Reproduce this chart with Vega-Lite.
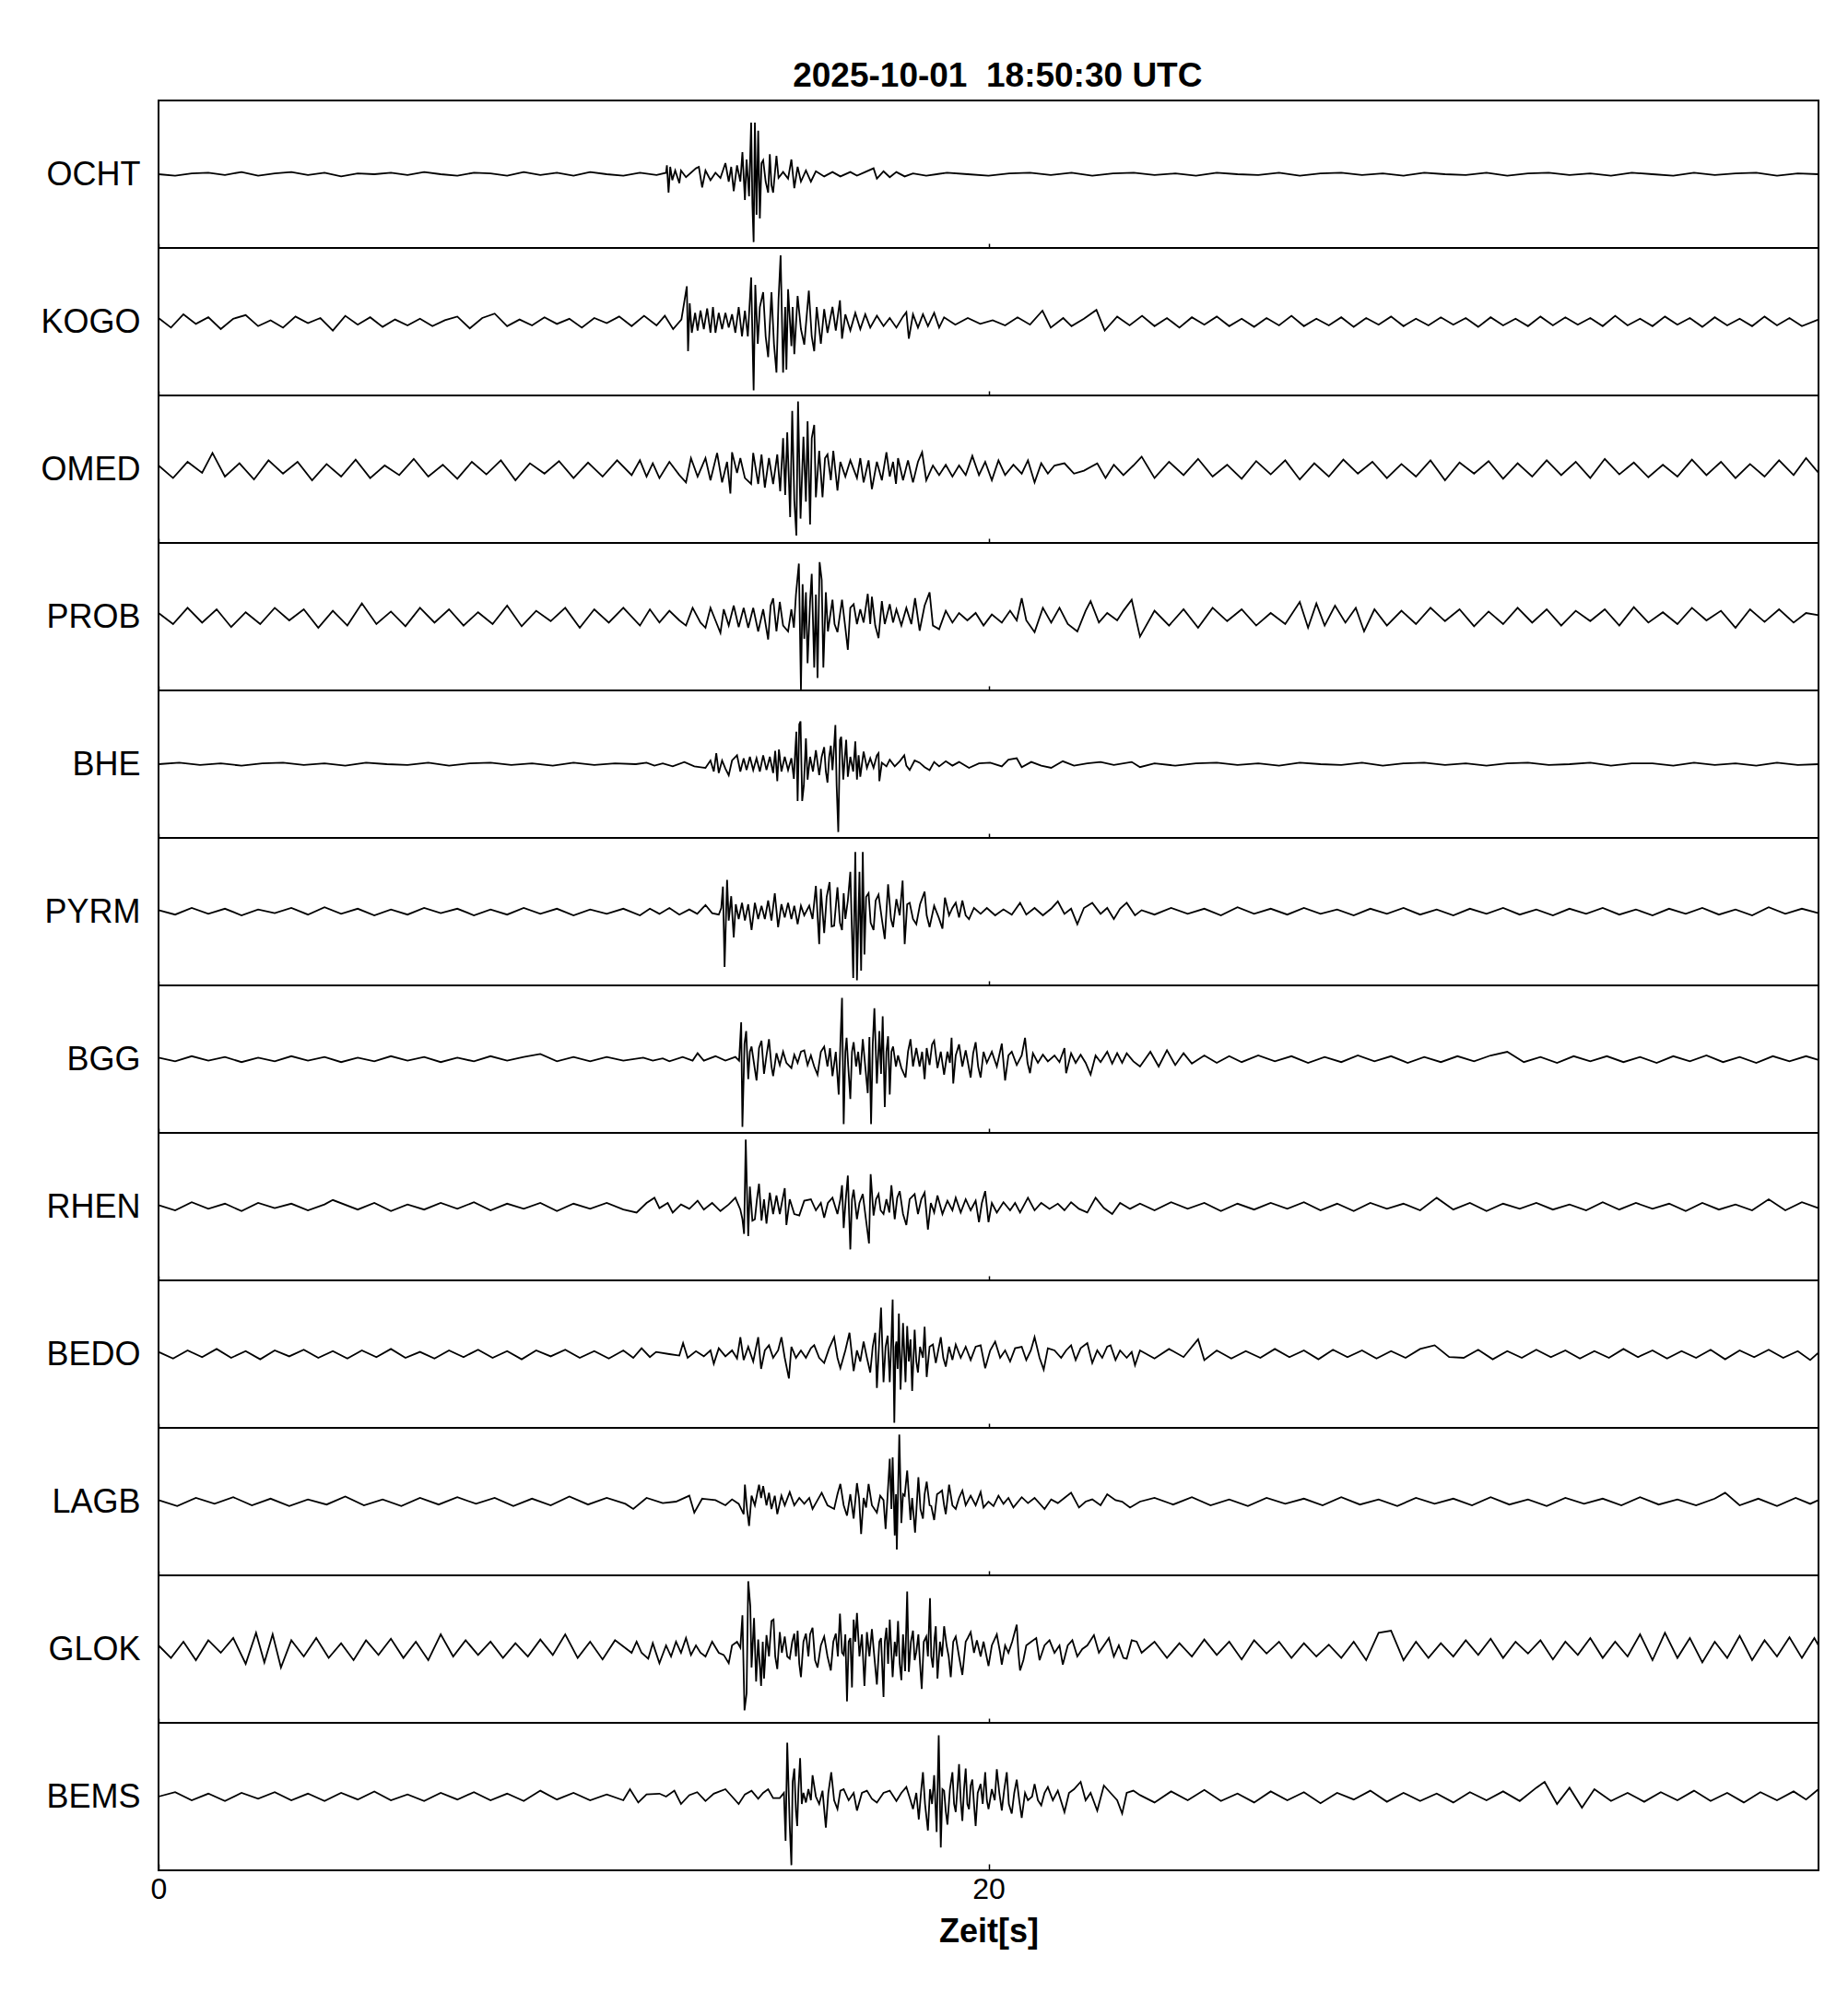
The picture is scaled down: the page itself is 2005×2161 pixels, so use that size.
{
"$schema":"https://vega.github.io/schema/vega-lite/v6.json",
"padding":{"left":42,"top":64,"right":20,"bottom":20},
"background":"white",
"title":{"text":"2025-10-01\u00a0 18:50:30 UTC","fontSize":37,"font":"Liberation Sans","fontWeight":"bold","anchor":"middle","baseline":"alphabetic","offset":-23,"dx":72,"color":"black"},
"spacing":0,
"bounds":"flush",
"config":{"view":{"stroke":"black","strokeWidth":2},"font":"Liberation Sans",
"axisY":{"labels":false,"ticks":false,"domain":false,"grid":false,"titleAngle":0,"titleAlign":"right","titleBaseline":"middle","titleX":-20,"titleY":80,"titleFontSize":36,"titleFontWeight":"normal","titleFont":"Liberation Sans","titleColor":"black"},
"axisX":{"grid":false,"domain":false}},
"datasets":{
"OCHT":[{"t":0,"v":0},{"t":0.4,"v":-0.02},{"t":0.8,"v":0.01},{"t":1.2,"v":0.02},{"t":1.6,"v":-0.01},{"t":2.0,"v":0.03},{"t":2.4,"v":-0.02},{"t":2.8,"v":0.01},{"t":3.2,"v":0.03},{"t":3.6,"v":-0.01},{"t":4.0,"v":0.02},{"t":4.4,"v":-0.03},{"t":4.8,"v":0.01},{"t":5.2,"v":0},{"t":5.6,"v":0.02},{"t":6.0,"v":-0.01},{"t":6.4,"v":0.03},{"t":6.8,"v":0},{"t":7.2,"v":-0.02},{"t":7.6,"v":0.02},{"t":8.0,"v":0.01},{"t":8.4,"v":-0.02},{"t":8.8,"v":0.03},{"t":9.2,"v":-0.01},{"t":9.6,"v":0.02},{"t":10.0,"v":-0.02},{"t":10.4,"v":0.03},{"t":10.8,"v":0},{"t":11.2,"v":-0.02},{"t":11.6,"v":0.02},{"t":12.0,"v":-0.01},{"t":12.23,"v":0.02},{"t":12.25,"v":0.12},{"t":12.29,"v":-0.25},{"t":12.33,"v":0.1},{"t":12.38,"v":-0.08},{"t":12.45,"v":0.05},{"t":12.55,"v":-0.12},{"t":12.59,"v":0.05},{"t":12.71,"v":-0.04},{"t":12.95,"v":0.08},{"t":13.02,"v":0.1},{"t":13.1,"v":-0.18},{"t":13.18,"v":0.05},{"t":13.3,"v":-0.08},{"t":13.42,"v":0.02},{"t":13.54,"v":-0.05},{"t":13.66,"v":0.15},{"t":13.74,"v":-0.1},{"t":13.8,"v":0.1},{"t":13.86,"v":-0.23},{"t":13.94,"v":0.12},{"t":14.02,"v":-0.1},{"t":14.07,"v":0.3},{"t":14.13,"v":-0.35},{"t":14.17,"v":0.2},{"t":14.23,"v":-0.3},{"t":14.28,"v":0.7},{"t":14.31,"v":-0.4},{"t":14.34,"v":-0.92},{"t":14.37,"v":0.7},{"t":14.41,"v":-0.55},{"t":14.45,"v":0.59},{"t":14.49,"v":-0.6},{"t":14.53,"v":0.15},{"t":14.57,"v":0.19},{"t":14.63,"v":-0.1},{"t":14.69,"v":-0.25},{"t":14.73,"v":0.27},{"t":14.77,"v":-0.15},{"t":14.81,"v":-0.25},{"t":14.89,"v":0.25},{"t":14.94,"v":-0.05},{"t":15.05,"v":0.03},{"t":15.17,"v":-0.06},{"t":15.25,"v":0.2},{"t":15.32,"v":-0.19},{"t":15.4,"v":0.1},{"t":15.48,"v":-0.1},{"t":15.6,"v":0.05},{"t":15.72,"v":-0.1},{"t":15.84,"v":0.04},{"t":16.04,"v":-0.03},{"t":16.24,"v":0.03},{"t":16.43,"v":-0.03},{"t":16.67,"v":0.03},{"t":16.83,"v":-0.02},{"t":16.99,"v":0.02},{"t":17.23,"v":0.08},{"t":17.31,"v":-0.06},{"t":17.47,"v":0.04},{"t":17.62,"v":-0.04},{"t":17.78,"v":0.03},{"t":17.98,"v":-0.03},{"t":18.18,"v":0.01},{"t":18.5,"v":-0.02},{"t":19.0,"v":0.02},{"t":19.5,"v":0},{"t":20.0,"v":-0.02},{"t":20.5,"v":0.01},{"t":21.0,"v":0.02},{"t":21.5,"v":-0.01},{"t":22.0,"v":0.02},{"t":22.5,"v":-0.02},{"t":23.0,"v":0.01},{"t":23.5,"v":0.02},{"t":24.0,"v":-0.01},{"t":24.5,"v":0.01},{"t":25.0,"v":-0.02},{"t":25.5,"v":0.02},{"t":26.0,"v":0},{"t":26.5,"v":-0.01},{"t":27.0,"v":0.02},{"t":27.5,"v":-0.02},{"t":28.0,"v":0.01},{"t":28.5,"v":0.02},{"t":29.0,"v":-0.01},{"t":29.5,"v":0.01},{"t":30.0,"v":-0.02},{"t":30.5,"v":0.02},{"t":31.0,"v":0},{"t":31.5,"v":-0.01},{"t":32.0,"v":0.02},{"t":32.5,"v":-0.02},{"t":33.0,"v":0.01},{"t":33.5,"v":0.02},{"t":34.0,"v":-0.01},{"t":34.5,"v":0.01},{"t":35.0,"v":-0.02},{"t":35.5,"v":0.02},{"t":36.0,"v":0},{"t":36.5,"v":-0.02},{"t":37.0,"v":0.02},{"t":37.5,"v":-0.01},{"t":38.0,"v":0.01},{"t":38.5,"v":0.02},{"t":39.0,"v":-0.02},{"t":39.5,"v":0.01},{"t":40.0,"v":0}],
"KOGO":[{"t":0,"v":0.05},{"t":0.3,"v":-0.08},{"t":0.6,"v":0.1},{"t":0.9,"v":-0.03},{"t":1.2,"v":0.06},{"t":1.5,"v":-0.1},{"t":1.8,"v":0.04},{"t":2.1,"v":0.09},{"t":2.4,"v":-0.06},{"t":2.7,"v":0.02},{"t":3.0,"v":-0.08},{"t":3.3,"v":0.07},{"t":3.6,"v":-0.02},{"t":3.9,"v":0.05},{"t":4.2,"v":-0.12},{"t":4.5,"v":0.08},{"t":4.8,"v":-0.04},{"t":5.1,"v":0.06},{"t":5.4,"v":-0.07},{"t":5.7,"v":0.03},{"t":6.0,"v":-0.05},{"t":6.3,"v":0.04},{"t":6.6,"v":-0.06},{"t":6.9,"v":0.02},{"t":7.2,"v":0.07},{"t":7.5,"v":-0.09},{"t":7.8,"v":0.05},{"t":8.1,"v":0.11},{"t":8.4,"v":-0.06},{"t":8.7,"v":0.03},{"t":9.0,"v":-0.05},{"t":9.3,"v":0.06},{"t":9.6,"v":-0.03},{"t":9.9,"v":0.04},{"t":10.2,"v":-0.08},{"t":10.5,"v":0.05},{"t":10.8,"v":-0.02},{"t":11.1,"v":0.07},{"t":11.4,"v":-0.06},{"t":11.7,"v":0.08},{"t":12.0,"v":-0.05},{"t":12.2,"v":0.08},{"t":12.4,"v":-0.1},{"t":12.6,"v":0.03},{"t":12.73,"v":0.48},{"t":12.76,"v":-0.4},{"t":12.8,"v":0.25},{"t":12.85,"v":-0.15},{"t":12.93,"v":0.12},{"t":12.99,"v":-0.12},{"t":13.06,"v":0.15},{"t":13.14,"v":-0.1},{"t":13.22,"v":0.18},{"t":13.3,"v":-0.15},{"t":13.36,"v":0.2},{"t":13.42,"v":-0.15},{"t":13.5,"v":0.12},{"t":13.58,"v":-0.1},{"t":13.66,"v":0.12},{"t":13.74,"v":-0.08},{"t":13.82,"v":0.1},{"t":13.9,"v":-0.15},{"t":13.98,"v":0.2},{"t":14.06,"v":-0.2},{"t":14.13,"v":0.15},{"t":14.2,"v":-0.2},{"t":14.28,"v":0.6},{"t":14.34,"v":-0.93},{"t":14.38,"v":0.5},{"t":14.44,"v":-0.3},{"t":14.49,"v":0.2},{"t":14.57,"v":0.4},{"t":14.63,"v":-0.2},{"t":14.69,"v":-0.48},{"t":14.77,"v":0.4},{"t":14.83,"v":-0.3},{"t":14.89,"v":-0.69},{"t":14.94,"v":0.3},{"t":14.99,"v":0.9},{"t":15.05,"v":-0.69},{"t":15.1,"v":0.2},{"t":15.13,"v":-0.65},{"t":15.17,"v":0.44},{"t":15.25,"v":-0.33},{"t":15.28,"v":0.2},{"t":15.32,"v":-0.44},{"t":15.4,"v":0.35},{"t":15.48,"v":-0.1},{"t":15.56,"v":-0.31},{"t":15.67,"v":0.42},{"t":15.74,"v":-0.2},{"t":15.8,"v":-0.4},{"t":15.86,"v":0.2},{"t":15.96,"v":-0.3},{"t":16.04,"v":0.17},{"t":16.12,"v":-0.15},{"t":16.24,"v":0.2},{"t":16.32,"v":-0.12},{"t":16.42,"v":0.29},{"t":16.47,"v":-0.23},{"t":16.55,"v":0.1},{"t":16.67,"v":-0.12},{"t":16.79,"v":0.12},{"t":16.91,"v":-0.1},{"t":17.03,"v":0.1},{"t":17.15,"v":-0.08},{"t":17.31,"v":0.08},{"t":17.47,"v":-0.06},{"t":17.62,"v":0.05},{"t":17.78,"v":-0.08},{"t":17.94,"v":0.07},{"t":18.02,"v":0.13},{"t":18.08,"v":-0.23},{"t":18.18,"v":0.1},{"t":18.3,"v":-0.08},{"t":18.42,"v":0.1},{"t":18.54,"v":-0.06},{"t":18.69,"v":0.12},{"t":18.81,"v":-0.08},{"t":18.93,"v":0.06},{"t":19.2,"v":-0.04},{"t":19.5,"v":0.05},{"t":19.8,"v":-0.03},{"t":20.1,"v":0.02},{"t":20.4,"v":-0.05},{"t":20.7,"v":0.06},{"t":21.0,"v":-0.04},{"t":21.3,"v":0.15},{"t":21.5,"v":-0.08},{"t":21.8,"v":0.05},{"t":22.0,"v":-0.06},{"t":22.3,"v":0.04},{"t":22.6,"v":0.16},{"t":22.8,"v":-0.12},{"t":23.1,"v":0.07},{"t":23.4,"v":-0.05},{"t":23.7,"v":0.08},{"t":24.0,"v":-0.06},{"t":24.3,"v":0.05},{"t":24.6,"v":-0.08},{"t":24.9,"v":0.06},{"t":25.2,"v":-0.04},{"t":25.5,"v":0.07},{"t":25.8,"v":-0.06},{"t":26.1,"v":0.04},{"t":26.4,"v":-0.07},{"t":26.7,"v":0.05},{"t":27.0,"v":-0.05},{"t":27.3,"v":0.08},{"t":27.6,"v":-0.06},{"t":27.9,"v":0.04},{"t":28.2,"v":-0.05},{"t":28.5,"v":0.06},{"t":28.8,"v":-0.07},{"t":29.1,"v":0.05},{"t":29.4,"v":-0.04},{"t":29.7,"v":0.07},{"t":30.0,"v":-0.06},{"t":30.3,"v":0.04},{"t":30.6,"v":-0.05},{"t":30.9,"v":0.06},{"t":31.2,"v":-0.04},{"t":31.5,"v":0.05},{"t":31.8,"v":-0.07},{"t":32.1,"v":0.06},{"t":32.4,"v":-0.05},{"t":32.7,"v":0.04},{"t":33.0,"v":-0.06},{"t":33.3,"v":0.07},{"t":33.6,"v":-0.05},{"t":33.9,"v":0.06},{"t":34.2,"v":-0.04},{"t":34.5,"v":0.05},{"t":34.8,"v":-0.06},{"t":35.1,"v":0.08},{"t":35.4,"v":-0.05},{"t":35.7,"v":0.04},{"t":36.0,"v":-0.06},{"t":36.3,"v":0.07},{"t":36.6,"v":-0.04},{"t":36.9,"v":0.05},{"t":37.2,"v":-0.07},{"t":37.5,"v":0.06},{"t":37.8,"v":-0.05},{"t":38.1,"v":0.04},{"t":38.4,"v":-0.06},{"t":38.7,"v":0.07},{"t":39.0,"v":-0.05},{"t":39.3,"v":0.05},{"t":39.6,"v":-0.06},{"t":40.0,"v":0.03}],
"OMED":[{"t":0,"v":0.05},{"t":0.35,"v":-0.12},{"t":0.7,"v":0.1},{"t":1.05,"v":-0.05},{"t":1.3,"v":0.22},{"t":1.6,"v":-0.1},{"t":1.95,"v":0.08},{"t":2.3,"v":-0.14},{"t":2.65,"v":0.12},{"t":3.0,"v":-0.06},{"t":3.35,"v":0.1},{"t":3.7,"v":-0.15},{"t":4.05,"v":0.07},{"t":4.4,"v":-0.1},{"t":4.75,"v":0.13},{"t":5.1,"v":-0.12},{"t":5.45,"v":0.05},{"t":5.8,"v":-0.08},{"t":6.15,"v":0.14},{"t":6.5,"v":-0.1},{"t":6.85,"v":0.06},{"t":7.2,"v":-0.13},{"t":7.55,"v":0.1},{"t":7.9,"v":-0.07},{"t":8.25,"v":0.12},{"t":8.6,"v":-0.15},{"t":8.95,"v":0.08},{"t":9.3,"v":-0.06},{"t":9.65,"v":0.11},{"t":10.0,"v":-0.12},{"t":10.35,"v":0.09},{"t":10.7,"v":-0.1},{"t":11.05,"v":0.12},{"t":11.4,"v":-0.08},{"t":11.6,"v":0.12},{"t":11.76,"v":-0.1},{"t":11.91,"v":0.08},{"t":12.07,"v":-0.12},{"t":12.31,"v":0.1},{"t":12.55,"v":-0.08},{"t":12.71,"v":-0.18},{"t":12.83,"v":0.15},{"t":12.99,"v":-0.1},{"t":13.18,"v":0.15},{"t":13.3,"v":-0.15},{"t":13.46,"v":0.22},{"t":13.58,"v":-0.18},{"t":13.7,"v":0.1},{"t":13.78,"v":-0.33},{"t":13.82,"v":0.23},{"t":13.94,"v":-0.05},{"t":14.02,"v":0.15},{"t":14.13,"v":-0.12},{"t":14.28,"v":-0.2},{"t":14.33,"v":0.22},{"t":14.45,"v":-0.2},{"t":14.53,"v":0.2},{"t":14.61,"v":-0.25},{"t":14.71,"v":0.15},{"t":14.81,"v":-0.2},{"t":14.91,"v":0.2},{"t":14.98,"v":-0.3},{"t":15.05,"v":0.42},{"t":15.1,"v":-0.35},{"t":15.15,"v":0.5},{"t":15.22,"v":-0.65},{"t":15.27,"v":0.79},{"t":15.32,"v":-0.42},{"t":15.37,"v":-0.9},{"t":15.41,"v":0.92},{"t":15.47,"v":-0.67},{"t":15.54,"v":0.44},{"t":15.6,"v":-0.44},{"t":15.64,"v":0.65},{"t":15.7,"v":-0.75},{"t":15.74,"v":0.42},{"t":15.8,"v":0.6},{"t":15.84,"v":-0.38},{"t":15.92,"v":0.25},{"t":16.0,"v":-0.38},{"t":16.06,"v":0.15},{"t":16.12,"v":0.2},{"t":16.2,"v":-0.15},{"t":16.26,"v":0.25},{"t":16.36,"v":-0.29},{"t":16.43,"v":0.1},{"t":16.55,"v":-0.1},{"t":16.67,"v":0.12},{"t":16.83,"v":-0.12},{"t":16.91,"v":0.15},{"t":16.99,"v":-0.18},{"t":17.11,"v":0.12},{"t":17.19,"v":-0.27},{"t":17.31,"v":0.1},{"t":17.43,"v":-0.15},{"t":17.54,"v":0.23},{"t":17.62,"v":-0.1},{"t":17.7,"v":0.1},{"t":17.77,"v":-0.2},{"t":17.82,"v":0.15},{"t":17.94,"v":-0.15},{"t":18.06,"v":0.12},{"t":18.18,"v":-0.18},{"t":18.3,"v":0.1},{"t":18.4,"v":0.23},{"t":18.5,"v":-0.15},{"t":18.66,"v":0.05},{"t":18.81,"v":-0.08},{"t":18.97,"v":0.06},{"t":19.13,"v":-0.1},{"t":19.29,"v":0.05},{"t":19.45,"v":-0.08},{"t":19.61,"v":0.18},{"t":19.77,"v":-0.08},{"t":19.92,"v":0.1},{"t":20.08,"v":-0.15},{"t":20.24,"v":0.12},{"t":20.4,"v":-0.08},{"t":20.6,"v":0.06},{"t":20.8,"v":-0.06},{"t":20.95,"v":0.12},{"t":21.11,"v":-0.18},{"t":21.27,"v":0.08},{"t":21.43,"v":-0.06},{"t":21.59,"v":0.05},{"t":21.83,"v":0.08},{"t":22.06,"v":-0.06},{"t":22.3,"v":-0.02},{"t":22.62,"v":0.08},{"t":22.82,"v":-0.12},{"t":23.02,"v":0.06},{"t":23.25,"v":-0.08},{"t":23.49,"v":0.05},{"t":23.69,"v":0.17},{"t":24.0,"v":-0.12},{"t":24.35,"v":0.1},{"t":24.7,"v":-0.08},{"t":25.05,"v":0.14},{"t":25.4,"v":-0.1},{"t":25.75,"v":0.06},{"t":26.1,"v":-0.13},{"t":26.45,"v":0.11},{"t":26.8,"v":-0.07},{"t":27.15,"v":0.12},{"t":27.5,"v":-0.14},{"t":27.85,"v":0.08},{"t":28.2,"v":-0.1},{"t":28.55,"v":0.13},{"t":28.9,"v":-0.06},{"t":29.25,"v":0.1},{"t":29.6,"v":-0.12},{"t":29.95,"v":0.07},{"t":30.3,"v":-0.1},{"t":30.65,"v":0.12},{"t":31.0,"v":-0.15},{"t":31.35,"v":0.09},{"t":31.7,"v":-0.06},{"t":32.05,"v":0.11},{"t":32.4,"v":-0.13},{"t":32.75,"v":0.08},{"t":33.1,"v":-0.1},{"t":33.45,"v":0.12},{"t":33.8,"v":-0.08},{"t":34.15,"v":0.1},{"t":34.5,"v":-0.12},{"t":34.85,"v":0.14},{"t":35.2,"v":-0.07},{"t":35.55,"v":0.09},{"t":35.9,"v":-0.11},{"t":36.25,"v":0.06},{"t":36.6,"v":-0.1},{"t":36.95,"v":0.13},{"t":37.3,"v":-0.08},{"t":37.65,"v":0.1},{"t":38.0,"v":-0.12},{"t":38.35,"v":0.07},{"t":38.7,"v":-0.1},{"t":39.05,"v":0.12},{"t":39.4,"v":-0.08},{"t":39.7,"v":0.15},{"t":40.0,"v":-0.05}],
"PROB":[{"t":0,"v":0.05},{"t":0.35,"v":-0.1},{"t":0.7,"v":0.12},{"t":1.05,"v":-0.08},{"t":1.4,"v":0.1},{"t":1.75,"v":-0.14},{"t":2.1,"v":0.06},{"t":2.45,"v":-0.1},{"t":2.8,"v":0.12},{"t":3.15,"v":-0.05},{"t":3.5,"v":0.1},{"t":3.85,"v":-0.15},{"t":4.2,"v":0.08},{"t":4.55,"v":-0.12},{"t":4.9,"v":0.18},{"t":5.25,"v":-0.1},{"t":5.6,"v":0.07},{"t":5.95,"v":-0.13},{"t":6.3,"v":0.12},{"t":6.65,"v":-0.08},{"t":7.0,"v":0.1},{"t":7.35,"v":-0.12},{"t":7.7,"v":0.06},{"t":8.05,"v":-0.1},{"t":8.4,"v":0.15},{"t":8.75,"v":-0.13},{"t":9.1,"v":0.08},{"t":9.45,"v":-0.06},{"t":9.8,"v":0.12},{"t":10.15,"v":-0.15},{"t":10.5,"v":0.1},{"t":10.85,"v":-0.08},{"t":11.2,"v":0.12},{"t":11.6,"v":-0.12},{"t":11.84,"v":0.1},{"t":12.07,"v":-0.08},{"t":12.31,"v":0.08},{"t":12.55,"v":-0.05},{"t":12.71,"v":-0.12},{"t":12.87,"v":0.12},{"t":13.06,"v":-0.08},{"t":13.18,"v":-0.15},{"t":13.3,"v":0.12},{"t":13.42,"v":-0.05},{"t":13.54,"v":-0.22},{"t":13.62,"v":0.1},{"t":13.74,"v":-0.12},{"t":13.86,"v":0.15},{"t":13.98,"v":-0.14},{"t":14.1,"v":0.12},{"t":14.21,"v":-0.15},{"t":14.33,"v":0.12},{"t":14.45,"v":-0.2},{"t":14.57,"v":0.1},{"t":14.69,"v":-0.31},{"t":14.75,"v":0.15},{"t":14.81,"v":0.25},{"t":14.89,"v":-0.2},{"t":14.97,"v":0.2},{"t":15.05,"v":-0.12},{"t":15.17,"v":-0.2},{"t":15.25,"v":0.1},{"t":15.31,"v":-0.15},{"t":15.36,"v":0.3},{"t":15.43,"v":0.72},{"t":15.48,"v":-0.99},{"t":15.52,"v":0.44},{"t":15.56,"v":-0.3},{"t":15.6,"v":0.33},{"t":15.64,"v":-0.63},{"t":15.7,"v":0.2},{"t":15.74,"v":0.58},{"t":15.8,"v":-0.69},{"t":15.84,"v":0.3},{"t":15.88,"v":-0.83},{"t":15.93,"v":0.74},{"t":15.98,"v":0.5},{"t":16.02,"v":-0.69},{"t":16.08,"v":0.33},{"t":16.13,"v":-0.2},{"t":16.24,"v":0.23},{"t":16.29,"v":-0.1},{"t":16.36,"v":-0.21},{"t":16.47,"v":0.23},{"t":16.55,"v":-0.15},{"t":16.61,"v":-0.45},{"t":16.67,"v":0.12},{"t":16.75,"v":0.17},{"t":16.83,"v":-0.1},{"t":16.91,"v":0.1},{"t":16.99,"v":-0.08},{"t":17.09,"v":0.31},{"t":17.15,"v":-0.1},{"t":17.19,"v":0.27},{"t":17.27,"v":-0.12},{"t":17.35,"v":-0.29},{"t":17.43,"v":0.21},{"t":17.5,"v":-0.1},{"t":17.62,"v":0.17},{"t":17.7,"v":-0.08},{"t":17.78,"v":0.1},{"t":17.9,"v":-0.12},{"t":18.02,"v":0.12},{"t":18.14,"v":-0.1},{"t":18.23,"v":0.25},{"t":18.34,"v":-0.19},{"t":18.46,"v":0.15},{"t":18.58,"v":0.33},{"t":18.66,"v":-0.12},{"t":18.81,"v":-0.17},{"t":18.97,"v":0.08},{"t":19.13,"v":-0.08},{"t":19.29,"v":0.05},{"t":19.49,"v":-0.05},{"t":19.69,"v":0.05},{"t":19.88,"v":-0.12},{"t":20.08,"v":0.03},{"t":20.32,"v":-0.08},{"t":20.52,"v":0.08},{"t":20.68,"v":-0.05},{"t":20.8,"v":0.25},{"t":20.91,"v":-0.05},{"t":21.11,"v":-0.21},{"t":21.31,"v":0.12},{"t":21.51,"v":-0.08},{"t":21.71,"v":0.12},{"t":21.91,"v":-0.1},{"t":22.14,"v":-0.2},{"t":22.34,"v":0.08},{"t":22.46,"v":0.21},{"t":22.66,"v":-0.08},{"t":22.86,"v":0.05},{"t":23.1,"v":-0.05},{"t":23.25,"v":0.08},{"t":23.45,"v":0.23},{"t":23.65,"v":-0.27},{"t":24.0,"v":0.08},{"t":24.35,"v":-0.12},{"t":24.7,"v":0.1},{"t":25.05,"v":-0.15},{"t":25.4,"v":0.12},{"t":25.75,"v":-0.06},{"t":26.1,"v":0.1},{"t":26.45,"v":-0.12},{"t":26.8,"v":0.05},{"t":27.15,"v":-0.1},{"t":27.5,"v":0.2},{"t":27.7,"v":-0.15},{"t":27.9,"v":0.18},{"t":28.1,"v":-0.12},{"t":28.35,"v":0.15},{"t":28.6,"v":-0.08},{"t":28.85,"v":0.12},{"t":29.05,"v":-0.2},{"t":29.3,"v":0.1},{"t":29.6,"v":-0.12},{"t":29.95,"v":0.08},{"t":30.3,"v":-0.1},{"t":30.65,"v":0.12},{"t":31.0,"v":-0.06},{"t":31.35,"v":0.1},{"t":31.7,"v":-0.13},{"t":32.05,"v":0.07},{"t":32.4,"v":-0.1},{"t":32.75,"v":0.12},{"t":33.1,"v":-0.08},{"t":33.45,"v":0.1},{"t":33.8,"v":-0.12},{"t":34.15,"v":0.08},{"t":34.5,"v":-0.06},{"t":34.85,"v":0.1},{"t":35.2,"v":-0.12},{"t":35.55,"v":0.13},{"t":35.9,"v":-0.08},{"t":36.25,"v":0.06},{"t":36.6,"v":-0.1},{"t":36.95,"v":0.12},{"t":37.3,"v":-0.05},{"t":37.65,"v":0.08},{"t":38.0,"v":-0.15},{"t":38.35,"v":0.1},{"t":38.7,"v":-0.07},{"t":39.05,"v":0.1},{"t":39.4,"v":-0.08},{"t":39.7,"v":0.05},{"t":40.0,"v":0.02}],
"BHE":[{"t":0,"v":0},{"t":0.5,"v":0.02},{"t":1.0,"v":-0.01},{"t":1.5,"v":0.01},{"t":2.0,"v":-0.02},{"t":2.5,"v":0.01},{"t":3.0,"v":0.02},{"t":3.5,"v":-0.01},{"t":4.0,"v":0.01},{"t":4.5,"v":-0.02},{"t":5.0,"v":0.02},{"t":5.5,"v":0},{"t":6.0,"v":-0.01},{"t":6.5,"v":0.02},{"t":7.0,"v":-0.02},{"t":7.5,"v":0.01},{"t":8.0,"v":0.02},{"t":8.5,"v":-0.01},{"t":9.0,"v":0.01},{"t":9.5,"v":-0.02},{"t":10.0,"v":0.02},{"t":10.5,"v":-0.01},{"t":11.0,"v":0.01},{"t":11.5,"v":0},{"t":11.76,"v":0.02},{"t":11.95,"v":-0.02},{"t":12.15,"v":0.01},{"t":12.39,"v":-0.03},{"t":12.67,"v":0.03},{"t":12.91,"v":-0.03},{"t":13.18,"v":-0.05},{"t":13.3,"v":0.05},{"t":13.38,"v":-0.1},{"t":13.44,"v":0.15},{"t":13.5,"v":-0.12},{"t":13.58,"v":0.05},{"t":13.66,"v":-0.06},{"t":13.74,"v":-0.15},{"t":13.82,"v":0.05},{"t":13.94,"v":0.12},{"t":14.02,"v":-0.1},{"t":14.1,"v":0.08},{"t":14.17,"v":-0.08},{"t":14.25,"v":0.1},{"t":14.33,"v":-0.08},{"t":14.41,"v":0.08},{"t":14.49,"v":-0.1},{"t":14.57,"v":0.12},{"t":14.65,"v":-0.08},{"t":14.73,"v":0.1},{"t":14.81,"v":-0.12},{"t":14.86,"v":0.18},{"t":14.91,"v":-0.23},{"t":14.95,"v":0.2},{"t":15.01,"v":-0.1},{"t":15.09,"v":0.1},{"t":15.17,"v":-0.08},{"t":15.25,"v":0.08},{"t":15.31,"v":-0.2},{"t":15.34,"v":0.15},{"t":15.37,"v":0.44},{"t":15.4,"v":-0.5},{"t":15.44,"v":0.54},{"t":15.47,"v":0.58},{"t":15.51,"v":-0.5},{"t":15.55,"v":-0.29},{"t":15.6,"v":0.35},{"t":15.64,"v":-0.21},{"t":15.7,"v":0.1},{"t":15.77,"v":-0.1},{"t":15.84,"v":0.19},{"t":15.92,"v":-0.15},{"t":15.98,"v":0.1},{"t":16.04,"v":0.23},{"t":16.08,"v":-0.1},{"t":16.12,"v":-0.25},{"t":16.16,"v":0.1},{"t":16.2,"v":0.25},{"t":16.24,"v":-0.08},{"t":16.28,"v":0.25},{"t":16.31,"v":0.53},{"t":16.34,"v":-0.29},{"t":16.38,"v":-0.92},{"t":16.42,"v":0.33},{"t":16.45,"v":0.37},{"t":16.5,"v":-0.21},{"t":16.54,"v":0.1},{"t":16.57,"v":0.33},{"t":16.61,"v":-0.17},{"t":16.67,"v":0.1},{"t":16.74,"v":-0.1},{"t":16.79,"v":0.31},{"t":16.83,"v":-0.21},{"t":16.87,"v":0.12},{"t":16.91,"v":-0.17},{"t":16.99,"v":0.17},{"t":17.07,"v":-0.05},{"t":17.15,"v":0.08},{"t":17.23,"v":-0.05},{"t":17.31,"v":0.12},{"t":17.35,"v":0.15},{"t":17.37,"v":-0.23},{"t":17.43,"v":0.02},{"t":17.54,"v":-0.03},{"t":17.62,"v":0.06},{"t":17.74,"v":-0.03},{"t":17.86,"v":0.04},{"t":17.97,"v":0.12},{"t":18.02,"v":-0.02},{"t":18.1,"v":-0.08},{"t":18.22,"v":0.05},{"t":18.34,"v":0.02},{"t":18.46,"v":-0.04},{"t":18.58,"v":-0.08},{"t":18.69,"v":0.03},{"t":18.81,"v":-0.03},{"t":18.97,"v":0.04},{"t":19.13,"v":-0.02},{"t":19.29,"v":0.03},{"t":19.53,"v":-0.05},{"t":19.77,"v":0.01},{"t":20.04,"v":0.02},{"t":20.32,"v":-0.03},{"t":20.48,"v":0.06},{"t":20.68,"v":0.08},{"t":20.8,"v":-0.04},{"t":21.03,"v":0.03},{"t":21.27,"v":-0.02},{"t":21.51,"v":-0.05},{"t":21.79,"v":0.04},{"t":22.06,"v":-0.02},{"t":22.38,"v":0.01},{"t":22.7,"v":0.03},{"t":23.02,"v":-0.01},{"t":23.45,"v":0.03},{"t":23.65,"v":-0.04},{"t":24.0,"v":0.01},{"t":24.5,"v":-0.02},{"t":25.0,"v":0.01},{"t":25.5,"v":0.02},{"t":26.0,"v":-0.01},{"t":26.5,"v":0.01},{"t":27.0,"v":-0.02},{"t":27.5,"v":0.02},{"t":28.0,"v":0},{"t":28.5,"v":-0.01},{"t":29.0,"v":0.02},{"t":29.5,"v":-0.02},{"t":30.0,"v":0.01},{"t":30.5,"v":0.02},{"t":31.0,"v":-0.01},{"t":31.5,"v":0.01},{"t":32.0,"v":-0.02},{"t":32.5,"v":0.01},{"t":33.0,"v":0.02},{"t":33.5,"v":-0.01},{"t":34.0,"v":0},{"t":34.5,"v":0.02},{"t":35.0,"v":-0.02},{"t":35.5,"v":0.01},{"t":36.0,"v":0.01},{"t":36.5,"v":-0.02},{"t":37.0,"v":0.02},{"t":37.5,"v":-0.01},{"t":38.0,"v":0.01},{"t":38.5,"v":-0.02},{"t":39.0,"v":0.02},{"t":39.5,"v":-0.01},{"t":40.0,"v":0}],
"PYRM":[{"t":0,"v":0.02},{"t":0.4,"v":-0.04},{"t":0.8,"v":0.05},{"t":1.2,"v":-0.03},{"t":1.6,"v":0.04},{"t":2.0,"v":-0.05},{"t":2.4,"v":0.03},{"t":2.8,"v":-0.02},{"t":3.2,"v":0.05},{"t":3.6,"v":-0.04},{"t":4.0,"v":0.06},{"t":4.4,"v":-0.03},{"t":4.8,"v":0.04},{"t":5.2,"v":-0.05},{"t":5.6,"v":0.03},{"t":6.0,"v":-0.04},{"t":6.4,"v":0.05},{"t":6.8,"v":-0.02},{"t":7.2,"v":0.04},{"t":7.6,"v":-0.05},{"t":8.0,"v":0.03},{"t":8.4,"v":-0.04},{"t":8.8,"v":0.05},{"t":9.2,"v":-0.03},{"t":9.6,"v":0.04},{"t":10.0,"v":-0.05},{"t":10.4,"v":0.03},{"t":10.8,"v":-0.03},{"t":11.2,"v":0.04},{"t":11.6,"v":-0.05},{"t":11.84,"v":0.04},{"t":12.07,"v":-0.03},{"t":12.31,"v":0.05},{"t":12.55,"v":-0.04},{"t":12.79,"v":0.03},{"t":12.98,"v":-0.03},{"t":13.18,"v":0.09},{"t":13.34,"v":-0.02},{"t":13.5,"v":-0.04},{"t":13.56,"v":0.05},{"t":13.6,"v":0.34},{"t":13.64,"v":-0.75},{"t":13.7,"v":0.43},{"t":13.74,"v":-0.12},{"t":13.8,"v":0.21},{"t":13.86,"v":-0.35},{"t":13.91,"v":0.1},{"t":13.98,"v":-0.1},{"t":14.06,"v":0.12},{"t":14.13,"v":-0.12},{"t":14.21,"v":0.1},{"t":14.29,"v":-0.25},{"t":14.37,"v":0.12},{"t":14.45,"v":-0.1},{"t":14.53,"v":0.08},{"t":14.61,"v":-0.1},{"t":14.69,"v":0.15},{"t":14.77,"v":-0.12},{"t":14.85,"v":0.25},{"t":14.93,"v":-0.21},{"t":15.01,"v":0.1},{"t":15.09,"v":-0.08},{"t":15.17,"v":0.12},{"t":15.25,"v":-0.1},{"t":15.32,"v":0.08},{"t":15.4,"v":-0.17},{"t":15.48,"v":0.08},{"t":15.56,"v":-0.05},{"t":15.68,"v":0.08},{"t":15.76,"v":-0.1},{"t":15.84,"v":0.35},{"t":15.92,"v":-0.44},{"t":15.96,"v":0.31},{"t":16.04,"v":-0.29},{"t":16.1,"v":0.2},{"t":16.17,"v":0.4},{"t":16.22,"v":-0.2},{"t":16.28,"v":-0.19},{"t":16.36,"v":0.33},{"t":16.42,"v":-0.15},{"t":16.47,"v":-0.25},{"t":16.51,"v":0.25},{"t":16.55,"v":-0.1},{"t":16.61,"v":0.15},{"t":16.67,"v":0.54},{"t":16.74,"v":-0.9},{"t":16.79,"v":0.81},{"t":16.83,"v":-0.93},{"t":16.89,"v":0.54},{"t":16.93,"v":-0.8},{"t":16.97,"v":0.81},{"t":17.01,"v":-0.58},{"t":17.05,"v":0.2},{"t":17.11,"v":0.25},{"t":17.16,"v":-0.15},{"t":17.23,"v":-0.25},{"t":17.28,"v":0.15},{"t":17.35,"v":0.23},{"t":17.43,"v":-0.1},{"t":17.5,"v":-0.37},{"t":17.58,"v":0.37},{"t":17.65,"v":-0.1},{"t":17.7,"v":-0.21},{"t":17.78,"v":0.17},{"t":17.86,"v":-0.05},{"t":17.93,"v":0.42},{"t":17.98,"v":-0.44},{"t":18.04,"v":0.1},{"t":18.1,"v":0.12},{"t":18.18,"v":-0.1},{"t":18.26,"v":-0.17},{"t":18.35,"v":0.1},{"t":18.46,"v":0.27},{"t":18.51,"v":-0.05},{"t":18.58,"v":-0.21},{"t":18.69,"v":0.08},{"t":18.8,"v":-0.08},{"t":18.89,"v":-0.23},{"t":18.95,"v":0.19},{"t":19.05,"v":-0.05},{"t":19.13,"v":0.05},{"t":19.21,"v":0.12},{"t":19.29,"v":-0.08},{"t":19.37,"v":0.15},{"t":19.45,"v":-0.05},{"t":19.53,"v":-0.1},{"t":19.65,"v":0.05},{"t":19.81,"v":-0.03},{"t":19.96,"v":0.05},{"t":20.16,"v":-0.05},{"t":20.36,"v":0.03},{"t":20.56,"v":-0.04},{"t":20.76,"v":0.12},{"t":20.91,"v":-0.04},{"t":21.11,"v":0.05},{"t":21.31,"v":-0.05},{"t":21.51,"v":0.04},{"t":21.67,"v":0.14},{"t":21.83,"v":-0.03},{"t":21.99,"v":0.04},{"t":22.14,"v":-0.17},{"t":22.3,"v":0.05},{"t":22.5,"v":0.12},{"t":22.7,"v":-0.03},{"t":22.86,"v":0.05},{"t":23.02,"v":-0.1},{"t":23.17,"v":0.04},{"t":23.33,"v":0.12},{"t":23.53,"v":-0.05},{"t":23.69,"v":0.02},{"t":24.0,"v":-0.04},{"t":24.4,"v":0.05},{"t":24.8,"v":-0.03},{"t":25.2,"v":0.04},{"t":25.6,"v":-0.05},{"t":26.0,"v":0.06},{"t":26.4,"v":-0.03},{"t":26.8,"v":0.04},{"t":27.2,"v":-0.04},{"t":27.6,"v":0.05},{"t":28.0,"v":-0.03},{"t":28.4,"v":0.03},{"t":28.8,"v":-0.05},{"t":29.2,"v":0.04},{"t":29.6,"v":-0.03},{"t":30.0,"v":0.05},{"t":30.4,"v":-0.04},{"t":30.8,"v":0.03},{"t":31.2,"v":-0.05},{"t":31.6,"v":0.04},{"t":32.0,"v":-0.03},{"t":32.4,"v":0.05},{"t":32.8,"v":-0.04},{"t":33.2,"v":0.03},{"t":33.6,"v":-0.05},{"t":34.0,"v":0.04},{"t":34.4,"v":-0.03},{"t":34.8,"v":0.05},{"t":35.2,"v":-0.04},{"t":35.6,"v":0.03},{"t":36.0,"v":-0.05},{"t":36.4,"v":0.04},{"t":36.8,"v":-0.03},{"t":37.2,"v":0.05},{"t":37.6,"v":-0.04},{"t":38.0,"v":0.03},{"t":38.4,"v":-0.05},{"t":38.8,"v":0.06},{"t":39.2,"v":-0.03},{"t":39.6,"v":0.04},{"t":40.0,"v":-0.02}],
"BGG":[{"t":0,"v":0.02},{"t":0.4,"v":-0.03},{"t":0.8,"v":0.04},{"t":1.2,"v":-0.02},{"t":1.6,"v":0.03},{"t":2.0,"v":-0.04},{"t":2.4,"v":0.02},{"t":2.8,"v":-0.03},{"t":3.2,"v":0.04},{"t":3.6,"v":-0.02},{"t":4.0,"v":0.03},{"t":4.4,"v":-0.04},{"t":4.8,"v":0.02},{"t":5.2,"v":-0.03},{"t":5.6,"v":0.04},{"t":6.0,"v":-0.02},{"t":6.4,"v":0.03},{"t":6.8,"v":-0.04},{"t":7.2,"v":0.02},{"t":7.6,"v":-0.03},{"t":8.0,"v":0.04},{"t":8.4,"v":-0.02},{"t":8.8,"v":0.03},{"t":9.2,"v":0.07},{"t":9.6,"v":-0.03},{"t":10.0,"v":0.03},{"t":10.4,"v":-0.03},{"t":10.8,"v":0.03},{"t":11.2,"v":-0.02},{"t":11.68,"v":0.02},{"t":11.91,"v":-0.02},{"t":12.15,"v":0.01},{"t":12.31,"v":-0.03},{"t":12.63,"v":0.03},{"t":12.87,"v":-0.02},{"t":12.99,"v":0.08},{"t":13.14,"v":-0.02},{"t":13.42,"v":0.04},{"t":13.66,"v":-0.02},{"t":13.9,"v":0.03},{"t":13.99,"v":-0.02},{"t":14.04,"v":0.5},{"t":14.07,"v":-0.92},{"t":14.12,"v":0.21},{"t":14.16,"v":0.38},{"t":14.21,"v":-0.27},{"t":14.25,"v":0.1},{"t":14.29,"v":0.17},{"t":14.36,"v":-0.1},{"t":14.41,"v":-0.29},{"t":14.47,"v":0.15},{"t":14.53,"v":0.25},{"t":14.59,"v":-0.2},{"t":14.65,"v":0.05},{"t":14.71,"v":0.27},{"t":14.77,"v":-0.1},{"t":14.81,"v":-0.23},{"t":14.89,"v":0.08},{"t":14.97,"v":-0.08},{"t":15.05,"v":0.1},{"t":15.13,"v":-0.05},{"t":15.25,"v":-0.12},{"t":15.32,"v":0.06},{"t":15.4,"v":-0.05},{"t":15.48,"v":0.1},{"t":15.56,"v":0.12},{"t":15.64,"v":-0.08},{"t":15.72,"v":0.05},{"t":15.8,"v":-0.1},{"t":15.88,"v":-0.21},{"t":15.96,"v":0.1},{"t":16.04,"v":0.17},{"t":16.12,"v":-0.1},{"t":16.18,"v":0.15},{"t":16.24,"v":-0.23},{"t":16.32,"v":0.1},{"t":16.39,"v":-0.48},{"t":16.43,"v":0.2},{"t":16.47,"v":0.83},{"t":16.51,"v":-0.88},{"t":16.55,"v":0.1},{"t":16.58,"v":0.29},{"t":16.62,"v":-0.1},{"t":16.67,"v":-0.54},{"t":16.71,"v":0.1},{"t":16.75,"v":0.23},{"t":16.81,"v":-0.1},{"t":16.86,"v":0.1},{"t":16.91,"v":-0.21},{"t":16.97,"v":0.27},{"t":17.03,"v":-0.1},{"t":17.09,"v":-0.46},{"t":17.13,"v":0.3},{"t":17.17,"v":-0.88},{"t":17.21,"v":0.2},{"t":17.25,"v":0.69},{"t":17.31,"v":-0.33},{"t":17.37,"v":0.38},{"t":17.41,"v":-0.2},{"t":17.45,"v":0.58},{"t":17.5,"v":-0.65},{"t":17.54,"v":0.1},{"t":17.58,"v":0.31},{"t":17.62,"v":-0.48},{"t":17.66,"v":0.1},{"t":17.7,"v":0.17},{"t":17.77,"v":-0.1},{"t":17.82,"v":0.05},{"t":17.9,"v":-0.12},{"t":18.0,"v":-0.25},{"t":18.06,"v":0.1},{"t":18.12,"v":0.27},{"t":18.18,"v":-0.1},{"t":18.26,"v":0.15},{"t":18.34,"v":-0.1},{"t":18.4,"v":0.1},{"t":18.46,"v":-0.27},{"t":18.51,"v":0.15},{"t":18.58,"v":-0.08},{"t":18.64,"v":0.2},{"t":18.69,"v":0.25},{"t":18.77,"v":-0.12},{"t":18.85,"v":0.1},{"t":18.93,"v":-0.21},{"t":19.01,"v":0.1},{"t":19.07,"v":-0.05},{"t":19.11,"v":0.29},{"t":19.15,"v":-0.33},{"t":19.21,"v":0.05},{"t":19.29,"v":0.2},{"t":19.37,"v":-0.1},{"t":19.45,"v":0.12},{"t":19.57,"v":-0.25},{"t":19.63,"v":0.08},{"t":19.69,"v":0.23},{"t":19.75,"v":-0.1},{"t":19.81,"v":-0.25},{"t":19.88,"v":0.1},{"t":19.96,"v":-0.05},{"t":20.08,"v":0.1},{"t":20.2,"v":-0.1},{"t":20.32,"v":0.21},{"t":20.4,"v":-0.29},{"t":20.48,"v":0.05},{"t":20.56,"v":0.1},{"t":20.68,"v":-0.08},{"t":20.8,"v":0.05},{"t":20.88,"v":0.29},{"t":20.94,"v":-0.05},{"t":21.0,"v":-0.19},{"t":21.07,"v":0.08},{"t":21.19,"v":-0.05},{"t":21.31,"v":0.06},{"t":21.43,"v":-0.03},{"t":21.59,"v":0.05},{"t":21.71,"v":-0.04},{"t":21.83,"v":0.15},{"t":21.87,"v":-0.19},{"t":21.99,"v":0.08},{"t":22.1,"v":-0.05},{"t":22.22,"v":0.06},{"t":22.34,"v":-0.05},{"t":22.46,"v":-0.21},{"t":22.58,"v":0.05},{"t":22.7,"v":-0.04},{"t":22.86,"v":0.1},{"t":22.98,"v":-0.06},{"t":23.1,"v":0.08},{"t":23.22,"v":-0.05},{"t":23.33,"v":0.08},{"t":23.49,"v":-0.03},{"t":23.65,"v":-0.1},{"t":23.9,"v":0.1},{"t":24.1,"v":-0.1},{"t":24.3,"v":0.12},{"t":24.5,"v":-0.08},{"t":24.7,"v":0.08},{"t":24.9,"v":-0.06},{"t":25.2,"v":0.05},{"t":25.5,"v":-0.05},{"t":25.8,"v":0.04},{"t":26.1,"v":-0.04},{"t":26.5,"v":0.05},{"t":26.9,"v":-0.03},{"t":27.3,"v":0.04},{"t":27.7,"v":-0.05},{"t":28.1,"v":0.03},{"t":28.5,"v":-0.04},{"t":28.9,"v":0.05},{"t":29.3,"v":-0.03},{"t":29.7,"v":0.04},{"t":30.1,"v":-0.05},{"t":30.5,"v":0.03},{"t":30.9,"v":-0.04},{"t":31.3,"v":0.04},{"t":31.7,"v":-0.03},{"t":32.1,"v":0.05},{"t":32.5,"v":0.1},{"t":32.9,"v":-0.04},{"t":33.3,"v":0.03},{"t":33.7,"v":-0.05},{"t":34.1,"v":0.04},{"t":34.5,"v":-0.03},{"t":34.9,"v":0.04},{"t":35.3,"v":-0.04},{"t":35.7,"v":0.03},{"t":36.1,"v":-0.05},{"t":36.5,"v":0.04},{"t":36.9,"v":-0.03},{"t":37.3,"v":0.05},{"t":37.7,"v":-0.04},{"t":38.1,"v":0.03},{"t":38.5,"v":-0.05},{"t":38.9,"v":0.04},{"t":39.3,"v":-0.03},{"t":39.7,"v":0.04},{"t":40.0,"v":-0.01}],
"RHEN":[{"t":0,"v":0.02},{"t":0.4,"v":-0.05},{"t":0.8,"v":0.06},{"t":1.2,"v":-0.03},{"t":1.6,"v":0.04},{"t":2.0,"v":-0.06},{"t":2.4,"v":0.05},{"t":2.8,"v":-0.02},{"t":3.2,"v":0.04},{"t":3.6,"v":-0.05},{"t":4.0,"v":0.03},{"t":4.2,"v":0.09},{"t":4.8,"v":-0.04},{"t":5.2,"v":0.05},{"t":5.6,"v":-0.06},{"t":6.0,"v":0.03},{"t":6.4,"v":-0.04},{"t":6.8,"v":0.05},{"t":7.2,"v":-0.03},{"t":7.6,"v":0.06},{"t":8.0,"v":-0.05},{"t":8.4,"v":0.04},{"t":8.8,"v":-0.03},{"t":9.2,"v":0.05},{"t":9.6,"v":-0.06},{"t":10.0,"v":0.04},{"t":10.4,"v":-0.03},{"t":10.8,"v":0.05},{"t":11.2,"v":-0.04},{"t":11.52,"v":-0.08},{"t":11.76,"v":0.05},{"t":11.95,"v":0.12},{"t":12.07,"v":-0.02},{"t":12.27,"v":0.05},{"t":12.39,"v":-0.08},{"t":12.59,"v":0.03},{"t":12.79,"v":-0.03},{"t":12.99,"v":0.08},{"t":13.14,"v":-0.04},{"t":13.34,"v":0.05},{"t":13.54,"v":-0.06},{"t":13.74,"v":0.03},{"t":13.9,"v":0.12},{"t":14.02,"v":-0.04},{"t":14.07,"v":-0.17},{"t":14.11,"v":-0.37},{"t":14.15,"v":0.91},{"t":14.18,"v":0.2},{"t":14.21,"v":-0.4},{"t":14.25,"v":0.27},{"t":14.31,"v":-0.19},{"t":14.37,"v":-0.17},{"t":14.42,"v":0.1},{"t":14.47,"v":0.31},{"t":14.53,"v":-0.19},{"t":14.59,"v":0.1},{"t":14.65,"v":-0.23},{"t":14.73,"v":0.19},{"t":14.81,"v":-0.1},{"t":14.89,"v":0.15},{"t":14.97,"v":-0.1},{"t":15.02,"v":0.05},{"t":15.09,"v":0.25},{"t":15.13,"v":-0.25},{"t":15.21,"v":0.1},{"t":15.32,"v":-0.1},{"t":15.44,"v":-0.12},{"t":15.56,"v":0.08},{"t":15.72,"v":0.1},{"t":15.84,"v":-0.05},{"t":15.96,"v":0.05},{"t":16.04,"v":-0.15},{"t":16.13,"v":0.05},{"t":16.24,"v":0.12},{"t":16.36,"v":-0.1},{"t":16.43,"v":0.1},{"t":16.47,"v":0.29},{"t":16.51,"v":-0.29},{"t":16.56,"v":0.1},{"t":16.61,"v":0.42},{"t":16.67,"v":-0.58},{"t":16.71,"v":0.1},{"t":16.75,"v":0.23},{"t":16.83,"v":-0.17},{"t":16.89,"v":0.05},{"t":16.97,"v":0.17},{"t":17.03,"v":-0.1},{"t":17.12,"v":-0.5},{"t":17.16,"v":0.44},{"t":17.23,"v":-0.12},{"t":17.29,"v":0.1},{"t":17.35,"v":0.17},{"t":17.4,"v":-0.05},{"t":17.47,"v":-0.1},{"t":17.54,"v":0.1},{"t":17.61,"v":-0.08},{"t":17.66,"v":0.29},{"t":17.74,"v":-0.17},{"t":17.8,"v":0.12},{"t":17.86,"v":0.21},{"t":17.94,"v":-0.1},{"t":18.02,"v":-0.25},{"t":18.1,"v":0.1},{"t":18.22,"v":0.17},{"t":18.3,"v":-0.1},{"t":18.38,"v":0.1},{"t":18.46,"v":0.19},{"t":18.54,"v":-0.31},{"t":18.61,"v":0.05},{"t":18.69,"v":-0.08},{"t":18.77,"v":0.15},{"t":18.89,"v":-0.1},{"t":19.01,"v":0.08},{"t":19.13,"v":-0.05},{"t":19.21,"v":0.12},{"t":19.33,"v":-0.08},{"t":19.45,"v":0.1},{"t":19.57,"v":-0.05},{"t":19.69,"v":0.08},{"t":19.77,"v":-0.21},{"t":19.84,"v":0.05},{"t":19.92,"v":0.21},{"t":20.0,"v":-0.21},{"t":20.08,"v":0.05},{"t":20.2,"v":-0.08},{"t":20.36,"v":0.06},{"t":20.52,"v":-0.05},{"t":20.64,"v":0.05},{"t":20.76,"v":-0.08},{"t":20.95,"v":0.12},{"t":21.11,"v":-0.05},{"t":21.27,"v":0.05},{"t":21.47,"v":-0.03},{"t":21.67,"v":0.04},{"t":21.83,"v":-0.05},{"t":21.99,"v":0.06},{"t":22.18,"v":-0.03},{"t":22.38,"v":-0.08},{"t":22.58,"v":0.12},{"t":22.78,"v":-0.02},{"t":22.98,"v":-0.1},{"t":23.17,"v":0.05},{"t":23.41,"v":-0.03},{"t":23.65,"v":0.04},{"t":24.0,"v":-0.05},{"t":24.4,"v":0.06},{"t":24.8,"v":-0.03},{"t":25.2,"v":0.05},{"t":25.6,"v":-0.06},{"t":26.0,"v":0.04},{"t":26.4,"v":-0.04},{"t":26.8,"v":0.05},{"t":27.2,"v":-0.03},{"t":27.6,"v":0.06},{"t":28.0,"v":-0.05},{"t":28.4,"v":0.04},{"t":28.8,"v":-0.06},{"t":29.2,"v":0.05},{"t":29.6,"v":-0.03},{"t":30.0,"v":0.04},{"t":30.4,"v":-0.05},{"t":30.8,"v":0.12},{"t":31.2,"v":-0.04},{"t":31.6,"v":0.05},{"t":32.0,"v":-0.06},{"t":32.4,"v":0.04},{"t":32.8,"v":-0.03},{"t":33.2,"v":0.05},{"t":33.6,"v":-0.04},{"t":34.0,"v":0.03},{"t":34.4,"v":-0.05},{"t":34.8,"v":0.06},{"t":35.2,"v":-0.04},{"t":35.6,"v":0.05},{"t":36.0,"v":-0.03},{"t":36.4,"v":0.04},{"t":36.8,"v":-0.06},{"t":37.2,"v":0.05},{"t":37.6,"v":-0.04},{"t":38.0,"v":0.03},{"t":38.4,"v":-0.05},{"t":38.8,"v":0.1},{"t":39.2,"v":-0.05},{"t":39.6,"v":0.06},{"t":40.0,"v":-0.02}],
"BEDO":[{"t":0,"v":0.03},{"t":0.35,"v":-0.06},{"t":0.7,"v":0.05},{"t":1.05,"v":-0.04},{"t":1.4,"v":0.07},{"t":1.75,"v":-0.05},{"t":2.1,"v":0.04},{"t":2.45,"v":-0.07},{"t":2.8,"v":0.05},{"t":3.15,"v":-0.03},{"t":3.5,"v":0.06},{"t":3.85,"v":-0.05},{"t":4.2,"v":0.04},{"t":4.55,"v":-0.06},{"t":4.9,"v":0.05},{"t":5.25,"v":-0.04},{"t":5.6,"v":0.07},{"t":5.95,"v":-0.05},{"t":6.3,"v":0.03},{"t":6.65,"v":-0.06},{"t":7.0,"v":0.05},{"t":7.35,"v":-0.04},{"t":7.7,"v":0.06},{"t":8.05,"v":-0.05},{"t":8.4,"v":0.04},{"t":8.75,"v":-0.07},{"t":9.1,"v":0.05},{"t":9.45,"v":-0.03},{"t":9.8,"v":0.06},{"t":10.15,"v":-0.05},{"t":10.5,"v":0.04},{"t":10.85,"v":-0.06},{"t":11.2,"v":0.05},{"t":11.44,"v":-0.05},{"t":11.64,"v":0.08},{"t":11.84,"v":-0.04},{"t":11.99,"v":0.03},{"t":12.31,"v":0},{"t":12.55,"v":-0.02},{"t":12.64,"v":0.15},{"t":12.75,"v":-0.05},{"t":12.95,"v":0.04},{"t":13.14,"v":-0.03},{"t":13.3,"v":0.05},{"t":13.38,"v":-0.13},{"t":13.5,"v":0.08},{"t":13.66,"v":-0.03},{"t":13.82,"v":0.05},{"t":13.94,"v":-0.06},{"t":14.02,"v":0.23},{"t":14.1,"v":-0.08},{"t":14.21,"v":0.1},{"t":14.33,"v":-0.1},{"t":14.45,"v":0.23},{"t":14.52,"v":-0.2},{"t":14.61,"v":0.05},{"t":14.71,"v":0.12},{"t":14.81,"v":-0.05},{"t":14.93,"v":0.05},{"t":15.01,"v":0.23},{"t":15.09,"v":-0.05},{"t":15.19,"v":-0.33},{"t":15.25,"v":0.1},{"t":15.36,"v":-0.05},{"t":15.48,"v":0.05},{"t":15.6,"v":-0.05},{"t":15.72,"v":0.08},{"t":15.8,"v":0.12},{"t":15.92,"v":-0.05},{"t":16.04,"v":-0.12},{"t":16.16,"v":0.08},{"t":16.28,"v":0.23},{"t":16.36,"v":-0.05},{"t":16.43,"v":-0.19},{"t":16.55,"v":0.05},{"t":16.65,"v":0.29},{"t":16.75,"v":-0.23},{"t":16.83,"v":0.05},{"t":16.91,"v":-0.1},{"t":16.99,"v":0.17},{"t":17.07,"v":-0.05},{"t":17.15,"v":-0.25},{"t":17.21,"v":0.1},{"t":17.27,"v":0.29},{"t":17.31,"v":-0.46},{"t":17.36,"v":0.1},{"t":17.41,"v":0.63},{"t":17.47,"v":-0.38},{"t":17.52,"v":0.1},{"t":17.57,"v":0.25},{"t":17.62,"v":-0.38},{"t":17.66,"v":0.2},{"t":17.69,"v":0.74},{"t":17.73,"v":-0.93},{"t":17.76,"v":0.1},{"t":17.78,"v":0.17},{"t":17.81,"v":-0.2},{"t":17.84,"v":0.55},{"t":17.88,"v":-0.48},{"t":17.92,"v":0.1},{"t":17.94,"v":0.42},{"t":18.0,"v":-0.38},{"t":18.04,"v":0.38},{"t":18.08,"v":-0.1},{"t":18.12,"v":0.2},{"t":18.16,"v":-0.5},{"t":18.22,"v":0.33},{"t":18.26,"v":-0.1},{"t":18.3,"v":-0.25},{"t":18.35,"v":0.1},{"t":18.42,"v":-0.05},{"t":18.46,"v":0.37},{"t":18.51,"v":-0.31},{"t":18.58,"v":0.1},{"t":18.66,"v":0.13},{"t":18.73,"v":-0.12},{"t":18.85,"v":0.23},{"t":18.91,"v":-0.05},{"t":18.97,"v":-0.17},{"t":19.05,"v":0.1},{"t":19.13,"v":-0.08},{"t":19.21,"v":0.13},{"t":19.33,"v":-0.05},{"t":19.45,"v":0.1},{"t":19.57,"v":-0.08},{"t":19.69,"v":0.1},{"t":19.81,"v":0.12},{"t":19.92,"v":-0.19},{"t":20.04,"v":0.05},{"t":20.16,"v":0.17},{"t":20.28,"v":-0.05},{"t":20.4,"v":0.05},{"t":20.52,"v":-0.1},{"t":20.64,"v":0.08},{"t":20.8,"v":0.1},{"t":20.91,"v":-0.08},{"t":21.02,"v":0.05},{"t":21.11,"v":0.23},{"t":21.23,"v":-0.05},{"t":21.33,"v":-0.21},{"t":21.43,"v":0.08},{"t":21.59,"v":0.05},{"t":21.75,"v":-0.05},{"t":21.87,"v":0.05},{"t":21.99,"v":0.12},{"t":22.1,"v":-0.08},{"t":22.22,"v":0.08},{"t":22.38,"v":0.15},{"t":22.5,"v":-0.12},{"t":22.62,"v":0.05},{"t":22.74,"v":-0.05},{"t":22.86,"v":0.1},{"t":22.94,"v":0.12},{"t":23.06,"v":-0.08},{"t":23.17,"v":0.05},{"t":23.33,"v":-0.05},{"t":23.45,"v":0.03},{"t":23.53,"v":-0.15},{"t":23.65,"v":0.05},{"t":24.0,"v":-0.06},{"t":24.35,"v":0.07},{"t":24.7,"v":-0.04},{"t":25.05,"v":0.2},{"t":25.2,"v":-0.08},{"t":25.5,"v":0.05},{"t":25.85,"v":-0.06},{"t":26.2,"v":0.04},{"t":26.55,"v":-0.05},{"t":26.9,"v":0.07},{"t":27.25,"v":-0.04},{"t":27.6,"v":0.05},{"t":27.95,"v":-0.07},{"t":28.3,"v":0.06},{"t":28.65,"v":-0.04},{"t":29.0,"v":0.05},{"t":29.35,"v":-0.06},{"t":29.7,"v":0.04},{"t":30.05,"v":-0.05},{"t":30.4,"v":0.07},{"t":30.75,"v":0.12},{"t":31.1,"v":-0.04},{"t":31.45,"v":-0.05},{"t":31.8,"v":0.06},{"t":32.15,"v":-0.07},{"t":32.5,"v":0.04},{"t":32.85,"v":-0.05},{"t":33.2,"v":0.06},{"t":33.55,"v":-0.04},{"t":33.9,"v":0.05},{"t":34.25,"v":-0.06},{"t":34.6,"v":0.04},{"t":34.95,"v":-0.05},{"t":35.3,"v":0.07},{"t":35.65,"v":-0.04},{"t":36.0,"v":0.05},{"t":36.35,"v":-0.06},{"t":36.7,"v":0.04},{"t":37.05,"v":-0.05},{"t":37.4,"v":0.06},{"t":37.75,"v":-0.07},{"t":38.1,"v":0.05},{"t":38.45,"v":-0.04},{"t":38.8,"v":0.06},{"t":39.15,"v":-0.05},{"t":39.5,"v":0.04},{"t":39.8,"v":-0.08},{"t":40.0,"v":0.02}],
"LAGB":[{"t":0,"v":0.02},{"t":0.45,"v":-0.06},{"t":0.9,"v":0.05},{"t":1.35,"v":-0.03},{"t":1.8,"v":0.06},{"t":2.25,"v":-0.05},{"t":2.7,"v":0.04},{"t":3.15,"v":-0.06},{"t":3.6,"v":0.03},{"t":4.05,"v":-0.04},{"t":4.5,"v":0.07},{"t":4.95,"v":-0.05},{"t":5.4,"v":0.03},{"t":5.85,"v":-0.06},{"t":6.3,"v":0.05},{"t":6.75,"v":-0.04},{"t":7.2,"v":0.06},{"t":7.65,"v":-0.03},{"t":8.1,"v":0.05},{"t":8.55,"v":-0.06},{"t":9.0,"v":0.04},{"t":9.45,"v":-0.05},{"t":9.9,"v":0.07},{"t":10.35,"v":-0.04},{"t":10.8,"v":0.05},{"t":11.25,"v":-0.03},{"t":11.44,"v":-0.1},{"t":11.76,"v":0.05},{"t":12.15,"v":-0.02},{"t":12.47,"v":0},{"t":12.79,"v":0.08},{"t":12.91,"v":-0.15},{"t":13.1,"v":0.04},{"t":13.42,"v":0.02},{"t":13.66,"v":-0.05},{"t":13.82,"v":0.03},{"t":13.98,"v":-0.03},{"t":14.1,"v":-0.17},{"t":14.13,"v":0.23},{"t":14.18,"v":-0.1},{"t":14.23,"v":-0.33},{"t":14.29,"v":0.08},{"t":14.37,"v":-0.05},{"t":14.47,"v":0.23},{"t":14.52,"v":0.05},{"t":14.57,"v":0.21},{"t":14.65,"v":-0.05},{"t":14.71,"v":0.12},{"t":14.77,"v":-0.1},{"t":14.85,"v":0.08},{"t":14.91,"v":-0.17},{"t":15.01,"v":0.08},{"t":15.09,"v":-0.05},{"t":15.21,"v":0.13},{"t":15.32,"v":-0.05},{"t":15.44,"v":0.05},{"t":15.56,"v":-0.03},{"t":15.68,"v":0.05},{"t":15.76,"v":-0.1},{"t":15.88,"v":0.02},{"t":15.98,"v":0.12},{"t":16.12,"v":-0.05},{"t":16.28,"v":-0.1},{"t":16.36,"v":0.1},{"t":16.43,"v":0.24},{"t":16.51,"v":-0.05},{"t":16.59,"v":-0.19},{"t":16.67,"v":0.1},{"t":16.75,"v":-0.23},{"t":16.83,"v":0.25},{"t":16.88,"v":0.05},{"t":16.93,"v":-0.44},{"t":16.99,"v":0.05},{"t":17.05,"v":-0.08},{"t":17.11,"v":0.24},{"t":17.19,"v":-0.05},{"t":17.31,"v":-0.15},{"t":17.39,"v":0.08},{"t":17.47,"v":0.02},{"t":17.52,"v":-0.37},{"t":17.57,"v":0.1},{"t":17.62,"v":0.58},{"t":17.66,"v":-0.1},{"t":17.69,"v":0.6},{"t":17.74,"v":-0.46},{"t":17.77,"v":0.1},{"t":17.79,"v":-0.65},{"t":17.85,"v":0.91},{"t":17.9,"v":-0.29},{"t":17.94,"v":0.1},{"t":17.98,"v":0.08},{"t":18.04,"v":0.42},{"t":18.12,"v":-0.25},{"t":18.16,"v":0.05},{"t":18.23,"v":-0.42},{"t":18.31,"v":0.33},{"t":18.36,"v":-0.1},{"t":18.42,"v":-0.23},{"t":18.46,"v":0.1},{"t":18.51,"v":0.27},{"t":18.58,"v":-0.05},{"t":18.62,"v":-0.06},{"t":18.69,"v":-0.25},{"t":18.76,"v":0.1},{"t":18.81,"v":0.12},{"t":18.88,"v":0.15},{"t":18.93,"v":-0.05},{"t":18.97,"v":-0.17},{"t":19.05,"v":0.23},{"t":19.13,"v":-0.05},{"t":19.21,"v":-0.1},{"t":19.29,"v":0.05},{"t":19.37,"v":0.15},{"t":19.45,"v":-0.05},{"t":19.57,"v":0.08},{"t":19.69,"v":-0.05},{"t":19.81,"v":0.13},{"t":19.88,"v":-0.08},{"t":20.0,"v":0},{"t":20.12,"v":-0.06},{"t":20.24,"v":0.08},{"t":20.36,"v":-0.03},{"t":20.48,"v":0.05},{"t":20.6,"v":-0.08},{"t":20.8,"v":0.06},{"t":20.95,"v":-0.02},{"t":21.11,"v":0.05},{"t":21.35,"v":-0.1},{"t":21.51,"v":0.03},{"t":21.67,"v":-0.02},{"t":21.83,"v":0.05},{"t":21.99,"v":0.12},{"t":22.18,"v":-0.08},{"t":22.34,"v":0},{"t":22.5,"v":0.03},{"t":22.7,"v":-0.05},{"t":22.86,"v":0.1},{"t":23.06,"v":0.02},{"t":23.22,"v":0},{"t":23.41,"v":-0.08},{"t":23.65,"v":0},{"t":24.0,"v":0.05},{"t":24.45,"v":-0.04},{"t":24.9,"v":0.06},{"t":25.35,"v":-0.05},{"t":25.8,"v":0.03},{"t":26.25,"v":-0.06},{"t":26.7,"v":0.05},{"t":27.15,"v":-0.03},{"t":27.6,"v":0.04},{"t":28.05,"v":-0.05},{"t":28.5,"v":0.06},{"t":28.95,"v":-0.04},{"t":29.4,"v":0.03},{"t":29.85,"v":-0.06},{"t":30.3,"v":0.05},{"t":30.75,"v":-0.03},{"t":31.2,"v":0.04},{"t":31.65,"v":-0.05},{"t":32.1,"v":0.06},{"t":32.55,"v":-0.04},{"t":33.0,"v":0.03},{"t":33.45,"v":-0.06},{"t":33.9,"v":0.05},{"t":34.35,"v":-0.03},{"t":34.8,"v":0.04},{"t":35.25,"v":-0.05},{"t":35.7,"v":0.06},{"t":36.15,"v":-0.04},{"t":36.6,"v":0.03},{"t":37.05,"v":-0.05},{"t":37.5,"v":0.04},{"t":37.75,"v":0.12},{"t":38.1,"v":-0.05},{"t":38.55,"v":0.04},{"t":39.0,"v":-0.06},{"t":39.45,"v":0.05},{"t":39.8,"v":-0.03},{"t":40.0,"v":0.02}],
"GLOK":[{"t":0,"v":0.05},{"t":0.3,"v":-0.12},{"t":0.6,"v":0.1},{"t":0.9,"v":-0.15},{"t":1.2,"v":0.12},{"t":1.5,"v":-0.05},{"t":1.8,"v":0.15},{"t":2.1,"v":-0.2},{"t":2.35,"v":0.22},{"t":2.55,"v":-0.18},{"t":2.75,"v":0.2},{"t":2.95,"v":-0.25},{"t":3.2,"v":0.12},{"t":3.5,"v":-0.1},{"t":3.8,"v":0.15},{"t":4.1,"v":-0.12},{"t":4.4,"v":0.08},{"t":4.7,"v":-0.15},{"t":5.0,"v":0.12},{"t":5.3,"v":-0.08},{"t":5.6,"v":0.14},{"t":5.9,"v":-0.12},{"t":6.2,"v":0.1},{"t":6.5,"v":-0.15},{"t":6.8,"v":0.2},{"t":7.1,"v":-0.1},{"t":7.4,"v":0.12},{"t":7.7,"v":-0.08},{"t":8.0,"v":0.1},{"t":8.3,"v":-0.12},{"t":8.6,"v":0.08},{"t":8.9,"v":-0.1},{"t":9.2,"v":0.13},{"t":9.5,"v":-0.08},{"t":9.8,"v":0.2},{"t":10.1,"v":-0.12},{"t":10.4,"v":0.1},{"t":10.7,"v":-0.14},{"t":11.0,"v":0.12},{"t":11.4,"v":-0.05},{"t":11.52,"v":0.1},{"t":11.64,"v":-0.05},{"t":11.8,"v":-0.13},{"t":11.91,"v":0.08},{"t":12.07,"v":-0.19},{"t":12.23,"v":0.05},{"t":12.35,"v":-0.1},{"t":12.47,"v":0.1},{"t":12.59,"v":-0.05},{"t":12.71,"v":0.15},{"t":12.83,"v":-0.08},{"t":12.95,"v":0.05},{"t":13.06,"v":-0.05},{"t":13.18,"v":-0.1},{"t":13.34,"v":0.1},{"t":13.5,"v":-0.05},{"t":13.62,"v":-0.08},{"t":13.74,"v":-0.19},{"t":13.82,"v":0.05},{"t":13.94,"v":0.1},{"t":14.02,"v":0.02},{"t":14.07,"v":0.46},{"t":14.12,"v":-0.83},{"t":14.17,"v":-0.6},{"t":14.21,"v":0.92},{"t":14.26,"v":0.58},{"t":14.29,"v":-0.25},{"t":14.35,"v":0.42},{"t":14.4,"v":-0.44},{"t":14.45,"v":0.13},{"t":14.52,"v":-0.5},{"t":14.56,"v":0.1},{"t":14.59,"v":-0.4},{"t":14.65,"v":0.19},{"t":14.71,"v":-0.1},{"t":14.77,"v":0.38},{"t":14.82,"v":0.4},{"t":14.86,"v":-0.1},{"t":14.91,"v":-0.27},{"t":14.97,"v":0.23},{"t":15.02,"v":-0.05},{"t":15.09,"v":0.17},{"t":15.15,"v":-0.1},{"t":15.21,"v":-0.13},{"t":15.27,"v":0.1},{"t":15.32,"v":0.21},{"t":15.36,"v":-0.1},{"t":15.4,"v":0.25},{"t":15.44,"v":-0.2},{"t":15.48,"v":-0.38},{"t":15.54,"v":0.1},{"t":15.6,"v":0.21},{"t":15.66,"v":-0.1},{"t":15.7,"v":0.2},{"t":15.76,"v":0.29},{"t":15.82,"v":-0.15},{"t":15.88,"v":-0.25},{"t":15.96,"v":0.05},{"t":16.04,"v":0.17},{"t":16.12,"v":-0.1},{"t":16.2,"v":-0.29},{"t":16.26,"v":0.1},{"t":16.32,"v":0.21},{"t":16.37,"v":-0.1},{"t":16.42,"v":0.48},{"t":16.47,"v":-0.05},{"t":16.51,"v":-0.08},{"t":16.55,"v":0.2},{"t":16.59,"v":-0.71},{"t":16.63,"v":0.1},{"t":16.67,"v":0.15},{"t":16.71,"v":-0.52},{"t":16.75,"v":0.4},{"t":16.79,"v":0.1},{"t":16.83,"v":0.49},{"t":16.89,"v":-0.1},{"t":16.95,"v":0.2},{"t":17.01,"v":-0.5},{"t":17.07,"v":0.23},{"t":17.13,"v":-0.1},{"t":17.19,"v":0.27},{"t":17.24,"v":-0.05},{"t":17.31,"v":-0.48},{"t":17.37,"v":0.1},{"t":17.41,"v":0.15},{"t":17.47,"v":-0.65},{"t":17.5,"v":0.1},{"t":17.54,"v":0.29},{"t":17.58,"v":-0.2},{"t":17.62,"v":0.4},{"t":17.69,"v":-0.38},{"t":17.74,"v":0.1},{"t":17.78,"v":-0.1},{"t":17.82,"v":0.38},{"t":17.86,"v":-0.2},{"t":17.9,"v":-0.42},{"t":17.94,"v":0.2},{"t":17.99,"v":-0.3},{"t":18.04,"v":0.78},{"t":18.08,"v":-0.31},{"t":18.13,"v":0.1},{"t":18.18,"v":0.25},{"t":18.22,"v":-0.15},{"t":18.26,"v":-0.04},{"t":18.31,"v":0.2},{"t":18.35,"v":-0.2},{"t":18.39,"v":-0.54},{"t":18.44,"v":0.1},{"t":18.5,"v":0.17},{"t":18.54,"v":-0.1},{"t":18.59,"v":0.69},{"t":18.62,"v":-0.1},{"t":18.66,"v":-0.25},{"t":18.7,"v":0.15},{"t":18.73,"v":0.31},{"t":18.77,"v":-0.4},{"t":18.83,"v":0.1},{"t":18.88,"v":-0.1},{"t":18.93,"v":0.31},{"t":18.99,"v":0.05},{"t":19.04,"v":-0.1},{"t":19.09,"v":-0.38},{"t":19.15,"v":0.1},{"t":19.21,"v":0.17},{"t":19.29,"v":-0.1},{"t":19.37,"v":-0.35},{"t":19.45,"v":0.1},{"t":19.5,"v":0.15},{"t":19.57,"v":0.23},{"t":19.65,"v":-0.05},{"t":19.72,"v":0.12},{"t":19.81,"v":-0.1},{"t":19.88,"v":0.1},{"t":20.0,"v":-0.23},{"t":20.08,"v":0.05},{"t":20.2,"v":0.2},{"t":20.28,"v":-0.05},{"t":20.32,"v":-0.21},{"t":20.4,"v":0.05},{"t":20.48,"v":-0.05},{"t":20.57,"v":0.1},{"t":20.68,"v":0.33},{"t":20.72,"v":-0.05},{"t":20.76,"v":-0.29},{"t":20.84,"v":-0.15},{"t":20.91,"v":0.05},{"t":21.03,"v":0.1},{"t":21.15,"v":0.15},{"t":21.23,"v":-0.15},{"t":21.35,"v":0.05},{"t":21.47,"v":0.12},{"t":21.59,"v":-0.05},{"t":21.71,"v":0.05},{"t":21.79,"v":-0.21},{"t":21.91,"v":0.05},{"t":22.02,"v":0.12},{"t":22.14,"v":-0.1},{"t":22.26,"v":0},{"t":22.38,"v":0.05},{"t":22.54,"v":0.19},{"t":22.66,"v":-0.05},{"t":22.78,"v":0.05},{"t":22.9,"v":0.15},{"t":23.02,"v":-0.1},{"t":23.14,"v":0.05},{"t":23.25,"v":-0.12},{"t":23.33,"v":-0.13},{"t":23.45,"v":0.12},{"t":23.57,"v":0.1},{"t":23.69,"v":-0.05},{"t":24.0,"v":0.1},{"t":24.3,"v":-0.12},{"t":24.6,"v":0.08},{"t":24.9,"v":-0.1},{"t":25.2,"v":0.13},{"t":25.5,"v":-0.08},{"t":25.8,"v":0.1},{"t":26.1,"v":-0.14},{"t":26.4,"v":0.12},{"t":26.7,"v":-0.06},{"t":27.0,"v":0.1},{"t":27.3,"v":-0.12},{"t":27.6,"v":0.08},{"t":27.9,"v":-0.1},{"t":28.2,"v":0.06},{"t":28.5,"v":-0.12},{"t":28.8,"v":0.1},{"t":29.1,"v":-0.15},{"t":29.4,"v":0.22},{"t":29.7,"v":0.25},{"t":30.0,"v":-0.15},{"t":30.3,"v":0.1},{"t":30.6,"v":-0.12},{"t":30.9,"v":0.08},{"t":31.2,"v":-0.1},{"t":31.5,"v":0.12},{"t":31.8,"v":-0.08},{"t":32.1,"v":0.14},{"t":32.4,"v":-0.12},{"t":32.7,"v":0.1},{"t":33.0,"v":-0.06},{"t":33.3,"v":0.12},{"t":33.6,"v":-0.14},{"t":33.9,"v":0.1},{"t":34.2,"v":-0.08},{"t":34.5,"v":0.15},{"t":34.8,"v":-0.12},{"t":35.1,"v":0.1},{"t":35.4,"v":-0.1},{"t":35.7,"v":0.2},{"t":36.0,"v":-0.15},{"t":36.3,"v":0.22},{"t":36.6,"v":-0.12},{"t":36.9,"v":0.15},{"t":37.2,"v":-0.18},{"t":37.5,"v":0.1},{"t":37.8,"v":-0.12},{"t":38.1,"v":0.18},{"t":38.4,"v":-0.15},{"t":38.7,"v":0.12},{"t":39.0,"v":-0.1},{"t":39.3,"v":0.16},{"t":39.6,"v":-0.12},{"t":39.9,"v":0.15},{"t":40.0,"v":0.05}],
"BEMS":[{"t":0,"v":0},{"t":0.4,"v":0.06},{"t":0.8,"v":-0.05},{"t":1.2,"v":0.04},{"t":1.6,"v":-0.06},{"t":2.0,"v":0.05},{"t":2.4,"v":-0.03},{"t":2.8,"v":0.06},{"t":3.2,"v":-0.05},{"t":3.6,"v":0.04},{"t":4.0,"v":-0.06},{"t":4.4,"v":0.05},{"t":4.8,"v":-0.04},{"t":5.2,"v":0.07},{"t":5.6,"v":-0.05},{"t":6.0,"v":0.03},{"t":6.4,"v":-0.06},{"t":6.8,"v":0.05},{"t":7.2,"v":-0.04},{"t":7.6,"v":0.06},{"t":8.0,"v":-0.05},{"t":8.4,"v":0.04},{"t":8.8,"v":-0.06},{"t":9.2,"v":0.08},{"t":9.6,"v":-0.04},{"t":10.0,"v":0.05},{"t":10.4,"v":-0.05},{"t":10.8,"v":0.03},{"t":11.2,"v":-0.05},{"t":11.36,"v":0.1},{"t":11.56,"v":-0.08},{"t":11.76,"v":0.03},{"t":12.07,"v":0.04},{"t":12.23,"v":0},{"t":12.43,"v":0.08},{"t":12.59,"v":-0.1},{"t":12.79,"v":0.02},{"t":12.98,"v":0.06},{"t":13.18,"v":-0.06},{"t":13.38,"v":0.04},{"t":13.66,"v":0.1},{"t":13.82,"v":0},{"t":13.98,"v":-0.1},{"t":14.13,"v":0.03},{"t":14.29,"v":0.08},{"t":14.45,"v":-0.03},{"t":14.57,"v":0.05},{"t":14.69,"v":0.1},{"t":14.81,"v":-0.02},{"t":14.97,"v":-0.02},{"t":15.07,"v":0.05},{"t":15.11,"v":-0.6},{"t":15.15,"v":0.73},{"t":15.21,"v":-0.4},{"t":15.25,"v":-0.93},{"t":15.28,"v":0.2},{"t":15.32,"v":0.38},{"t":15.36,"v":-0.2},{"t":15.39,"v":-0.4},{"t":15.42,"v":0.1},{"t":15.46,"v":0.52},{"t":15.5,"v":-0.1},{"t":15.54,"v":0.05},{"t":15.6,"v":-0.08},{"t":15.66,"v":0.1},{"t":15.72,"v":-0.05},{"t":15.76,"v":0.29},{"t":15.84,"v":0},{"t":15.92,"v":-0.1},{"t":16.0,"v":0.08},{"t":16.08,"v":-0.42},{"t":16.14,"v":0.05},{"t":16.21,"v":0.33},{"t":16.28,"v":-0.05},{"t":16.36,"v":-0.17},{"t":16.43,"v":0.08},{"t":16.51,"v":0.1},{"t":16.63,"v":-0.05},{"t":16.75,"v":0.05},{"t":16.83,"v":-0.19},{"t":16.95,"v":0.05},{"t":17.07,"v":0.08},{"t":17.19,"v":-0.03},{"t":17.31,"v":-0.08},{"t":17.47,"v":0.05},{"t":17.62,"v":0.08},{"t":17.78,"v":-0.06},{"t":17.9,"v":0.05},{"t":18.02,"v":0.13},{"t":18.12,"v":-0.05},{"t":18.18,"v":-0.17},{"t":18.26,"v":0.05},{"t":18.32,"v":-0.31},{"t":18.38,"v":0.1},{"t":18.42,"v":0.33},{"t":18.47,"v":-0.1},{"t":18.54,"v":-0.46},{"t":18.59,"v":0.1},{"t":18.64,"v":-0.1},{"t":18.69,"v":0.29},{"t":18.75,"v":-0.48},{"t":18.8,"v":0.83},{"t":18.85,"v":-0.69},{"t":18.89,"v":0.1},{"t":18.93,"v":0.08},{"t":18.97,"v":-0.2},{"t":19.01,"v":-0.38},{"t":19.07,"v":0.1},{"t":19.13,"v":0.33},{"t":19.17,"v":-0.1},{"t":19.21,"v":-0.21},{"t":19.25,"v":0.1},{"t":19.29,"v":0.44},{"t":19.33,"v":-0.05},{"t":19.37,"v":-0.33},{"t":19.41,"v":0.1},{"t":19.45,"v":0.38},{"t":19.49,"v":-0.1},{"t":19.53,"v":-0.17},{"t":19.57,"v":0.15},{"t":19.61,"v":0.23},{"t":19.65,"v":-0.1},{"t":19.69,"v":-0.4},{"t":19.74,"v":0.05},{"t":19.81,"v":0.17},{"t":19.86,"v":-0.1},{"t":19.92,"v":0.33},{"t":19.96,"v":-0.05},{"t":20.0,"v":-0.17},{"t":20.08,"v":0.1},{"t":20.15,"v":-0.05},{"t":20.2,"v":0.37},{"t":20.26,"v":0.05},{"t":20.32,"v":-0.19},{"t":20.38,"v":0.1},{"t":20.44,"v":0.33},{"t":20.49,"v":-0.1},{"t":20.56,"v":-0.23},{"t":20.62,"v":0.05},{"t":20.68,"v":0.23},{"t":20.74,"v":-0.05},{"t":20.8,"v":-0.29},{"t":20.88,"v":0.05},{"t":20.95,"v":-0.05},{"t":21.05,"v":0},{"t":21.11,"v":0.17},{"t":21.19,"v":-0.05},{"t":21.27,"v":-0.12},{"t":21.35,"v":0.05},{"t":21.43,"v":0.13},{"t":21.55,"v":-0.05},{"t":21.67,"v":0.08},{"t":21.83,"v":-0.21},{"t":21.94,"v":0.05},{"t":22.06,"v":0.1},{"t":22.22,"v":0.2},{"t":22.34,"v":-0.05},{"t":22.46,"v":0.05},{"t":22.62,"v":-0.19},{"t":22.78,"v":0.15},{"t":22.94,"v":0.05},{"t":23.1,"v":-0.05},{"t":23.22,"v":-0.23},{"t":23.33,"v":0.05},{"t":23.49,"v":0.08},{"t":23.65,"v":0.02},{"t":24.0,"v":-0.08},{"t":24.4,"v":0.07},{"t":24.8,"v":-0.05},{"t":25.2,"v":0.09},{"t":25.6,"v":-0.06},{"t":26.0,"v":0.04},{"t":26.4,"v":-0.08},{"t":26.8,"v":0.07},{"t":27.2,"v":-0.05},{"t":27.6,"v":0.06},{"t":28.0,"v":-0.09},{"t":28.4,"v":0.05},{"t":28.8,"v":-0.04},{"t":29.2,"v":0.08},{"t":29.6,"v":-0.07},{"t":30.0,"v":0.05},{"t":30.4,"v":-0.06},{"t":30.8,"v":0.04},{"t":31.2,"v":-0.08},{"t":31.6,"v":0.06},{"t":32.0,"v":-0.05},{"t":32.4,"v":0.07},{"t":32.8,"v":-0.06},{"t":33.2,"v":0.12},{"t":33.4,"v":0.2},{"t":33.7,"v":-0.1},{"t":34.0,"v":0.12},{"t":34.3,"v":-0.15},{"t":34.6,"v":0.1},{"t":35.0,"v":-0.06},{"t":35.4,"v":0.05},{"t":35.8,"v":-0.07},{"t":36.2,"v":0.06},{"t":36.6,"v":-0.05},{"t":37.0,"v":0.08},{"t":37.4,"v":-0.06},{"t":37.8,"v":0.05},{"t":38.2,"v":-0.08},{"t":38.6,"v":0.06},{"t":39.0,"v":-0.05},{"t":39.4,"v":0.07},{"t":39.7,"v":-0.04},{"t":40.0,"v":0.1}]
},
"vconcat":[
{"data":{"name":"OCHT"},"width":1801,"height":160,"mark":{"type":"line","color":"black","strokeWidth":1.8},"encoding":{"x":{"field":"t","type":"quantitative","scale":{"domain":[0,40],"nice":false,"zero":false},"axis":{"values":[0,20],"labels":false,"tickSize":5,"offset":-5,"tickWidth":1.5,"tickColor":"black","title":null}},"y":{"field":"v","type":"quantitative","scale":{"domain":[-1,1],"nice":false,"zero":false},"axis":{"title":"OCHT"}}}},
{"data":{"name":"KOGO"},"width":1801,"height":160,"mark":{"type":"line","color":"black","strokeWidth":1.8},"encoding":{"x":{"field":"t","type":"quantitative","scale":{"domain":[0,40],"nice":false,"zero":false},"axis":{"values":[0,20],"labels":false,"tickSize":5,"offset":-5,"tickWidth":1.5,"tickColor":"black","title":null}},"y":{"field":"v","type":"quantitative","scale":{"domain":[-1,1],"nice":false,"zero":false},"axis":{"title":"KOGO"}}}},
{"data":{"name":"OMED"},"width":1801,"height":160,"mark":{"type":"line","color":"black","strokeWidth":1.8},"encoding":{"x":{"field":"t","type":"quantitative","scale":{"domain":[0,40],"nice":false,"zero":false},"axis":{"values":[0,20],"labels":false,"tickSize":5,"offset":-5,"tickWidth":1.5,"tickColor":"black","title":null}},"y":{"field":"v","type":"quantitative","scale":{"domain":[-1,1],"nice":false,"zero":false},"axis":{"title":"OMED"}}}},
{"data":{"name":"PROB"},"width":1801,"height":160,"mark":{"type":"line","color":"black","strokeWidth":1.8},"encoding":{"x":{"field":"t","type":"quantitative","scale":{"domain":[0,40],"nice":false,"zero":false},"axis":{"values":[0,20],"labels":false,"tickSize":5,"offset":-5,"tickWidth":1.5,"tickColor":"black","title":null}},"y":{"field":"v","type":"quantitative","scale":{"domain":[-1,1],"nice":false,"zero":false},"axis":{"title":"PROB"}}}},
{"data":{"name":"BHE"},"width":1801,"height":160,"mark":{"type":"line","color":"black","strokeWidth":1.8},"encoding":{"x":{"field":"t","type":"quantitative","scale":{"domain":[0,40],"nice":false,"zero":false},"axis":{"values":[0,20],"labels":false,"tickSize":5,"offset":-5,"tickWidth":1.5,"tickColor":"black","title":null}},"y":{"field":"v","type":"quantitative","scale":{"domain":[-1,1],"nice":false,"zero":false},"axis":{"title":"BHE"}}}},
{"data":{"name":"PYRM"},"width":1801,"height":160,"mark":{"type":"line","color":"black","strokeWidth":1.8},"encoding":{"x":{"field":"t","type":"quantitative","scale":{"domain":[0,40],"nice":false,"zero":false},"axis":{"values":[0,20],"labels":false,"tickSize":5,"offset":-5,"tickWidth":1.5,"tickColor":"black","title":null}},"y":{"field":"v","type":"quantitative","scale":{"domain":[-1,1],"nice":false,"zero":false},"axis":{"title":"PYRM"}}}},
{"data":{"name":"BGG"},"width":1801,"height":160,"mark":{"type":"line","color":"black","strokeWidth":1.8},"encoding":{"x":{"field":"t","type":"quantitative","scale":{"domain":[0,40],"nice":false,"zero":false},"axis":{"values":[0,20],"labels":false,"tickSize":5,"offset":-5,"tickWidth":1.5,"tickColor":"black","title":null}},"y":{"field":"v","type":"quantitative","scale":{"domain":[-1,1],"nice":false,"zero":false},"axis":{"title":"BGG"}}}},
{"data":{"name":"RHEN"},"width":1801,"height":160,"mark":{"type":"line","color":"black","strokeWidth":1.8},"encoding":{"x":{"field":"t","type":"quantitative","scale":{"domain":[0,40],"nice":false,"zero":false},"axis":{"values":[0,20],"labels":false,"tickSize":5,"offset":-5,"tickWidth":1.5,"tickColor":"black","title":null}},"y":{"field":"v","type":"quantitative","scale":{"domain":[-1,1],"nice":false,"zero":false},"axis":{"title":"RHEN"}}}},
{"data":{"name":"BEDO"},"width":1801,"height":160,"mark":{"type":"line","color":"black","strokeWidth":1.8},"encoding":{"x":{"field":"t","type":"quantitative","scale":{"domain":[0,40],"nice":false,"zero":false},"axis":{"values":[0,20],"labels":false,"tickSize":5,"offset":-5,"tickWidth":1.5,"tickColor":"black","title":null}},"y":{"field":"v","type":"quantitative","scale":{"domain":[-1,1],"nice":false,"zero":false},"axis":{"title":"BEDO"}}}},
{"data":{"name":"LAGB"},"width":1801,"height":160,"mark":{"type":"line","color":"black","strokeWidth":1.8},"encoding":{"x":{"field":"t","type":"quantitative","scale":{"domain":[0,40],"nice":false,"zero":false},"axis":{"values":[0,20],"labels":false,"tickSize":5,"offset":-5,"tickWidth":1.5,"tickColor":"black","title":null}},"y":{"field":"v","type":"quantitative","scale":{"domain":[-1,1],"nice":false,"zero":false},"axis":{"title":"LAGB"}}}},
{"data":{"name":"GLOK"},"width":1801,"height":160,"mark":{"type":"line","color":"black","strokeWidth":1.8},"encoding":{"x":{"field":"t","type":"quantitative","scale":{"domain":[0,40],"nice":false,"zero":false},"axis":{"values":[0,20],"labels":false,"tickSize":5,"offset":-5,"tickWidth":1.5,"tickColor":"black","title":null}},"y":{"field":"v","type":"quantitative","scale":{"domain":[-1,1],"nice":false,"zero":false},"axis":{"title":"GLOK"}}}},
{"data":{"name":"BEMS"},"width":1801,"height":160,"mark":{"type":"line","color":"black","strokeWidth":1.8},"encoding":{"x":{"field":"t","type":"quantitative","scale":{"domain":[0,40],"nice":false,"zero":false},"axis":{"values":[0,20],"labels":true,"tickSize":7,"offset":-7,"tickWidth":1.5,"tickColor":"black","labelFontSize":32,"labelFont":"Liberation Sans","labelColor":"black","labelPadding":5,"labelFlush":false,"title":"Zeit[s]","titleFontSize":36,"titleFont":"Liberation Sans","titleFontWeight":"bold","titleColor":"black","titlePadding":13}},"y":{"field":"v","type":"quantitative","scale":{"domain":[-1,1],"nice":false,"zero":false},"axis":{"title":"BEMS"}}}}
]
}
